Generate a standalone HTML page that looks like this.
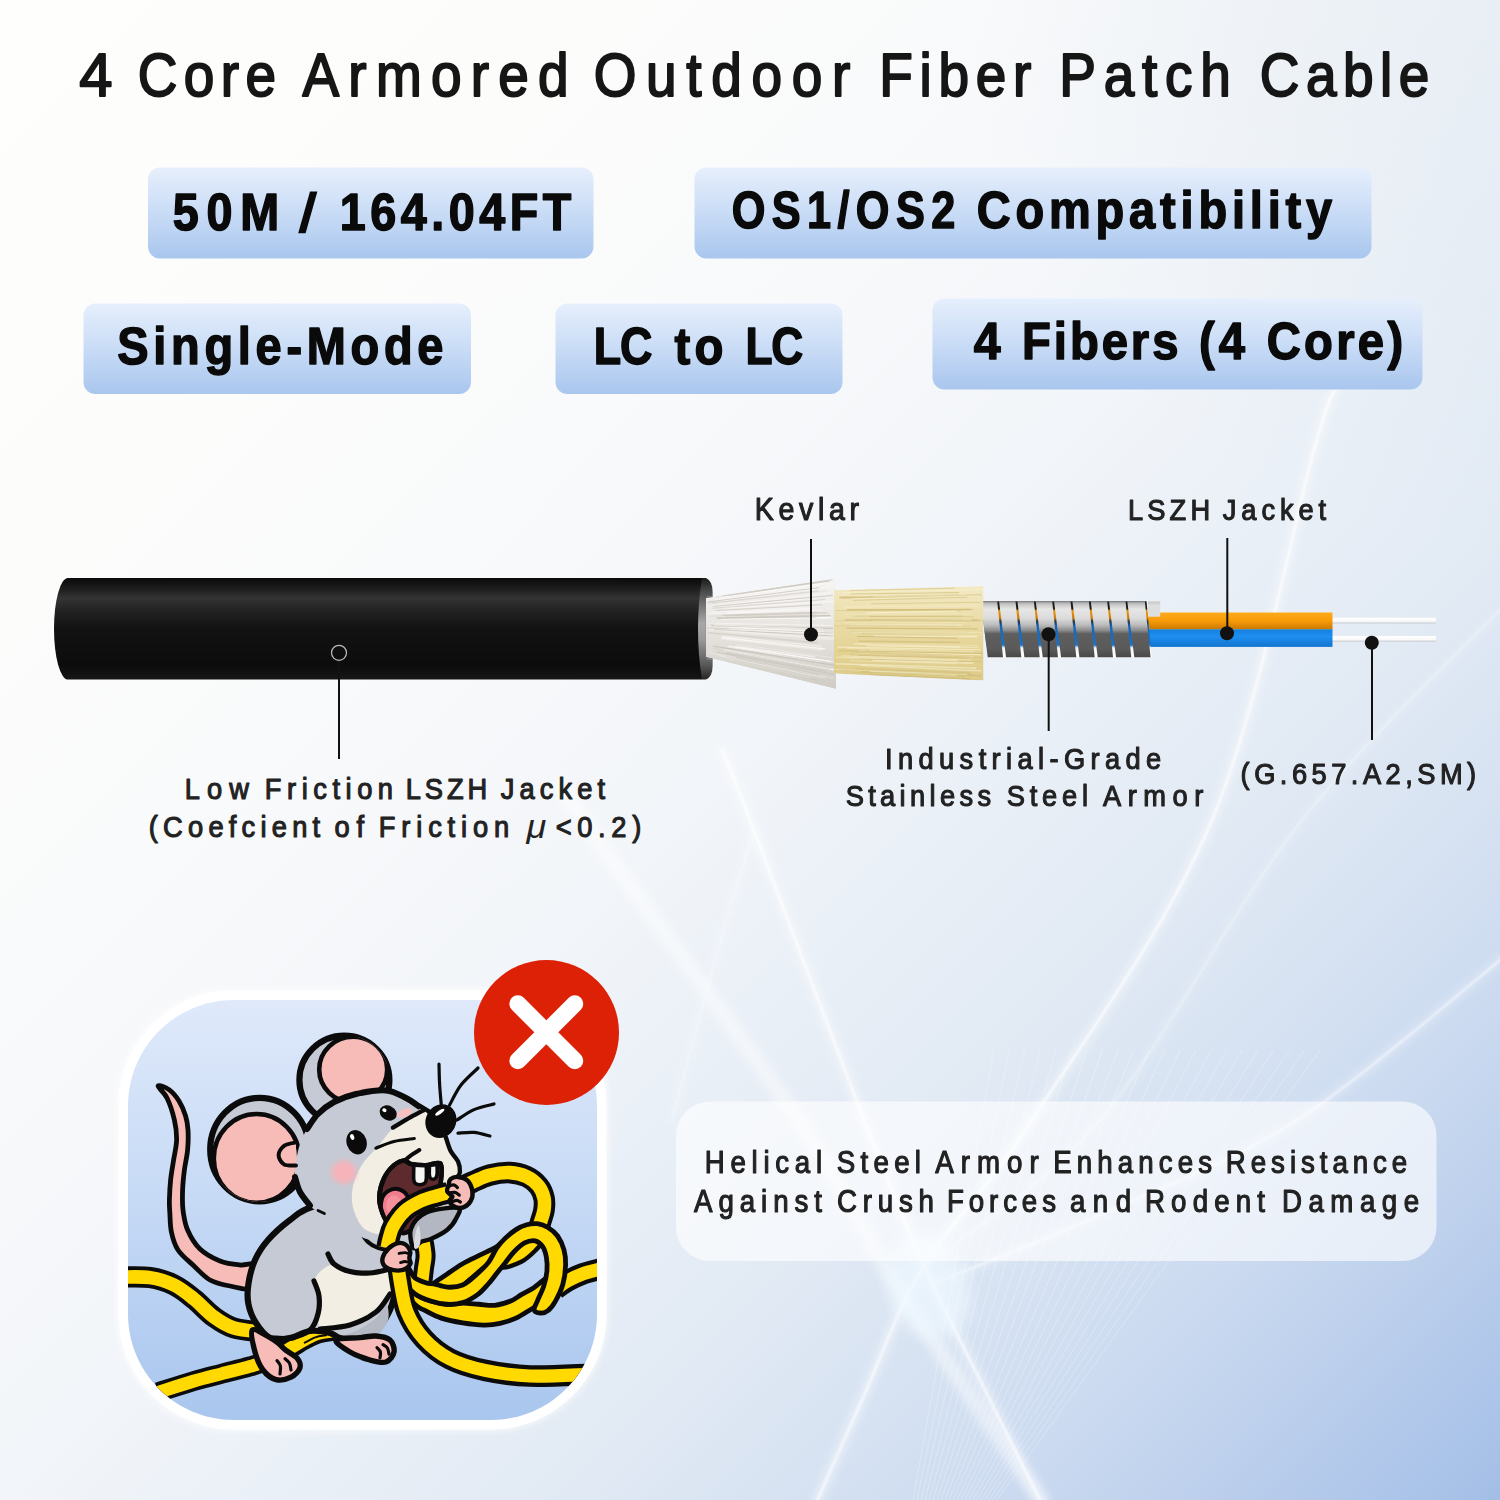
<!DOCTYPE html>
<html><head><meta charset="utf-8"><title>4 Core Armored Outdoor Fiber Patch Cable</title>
<style>
html,body{margin:0;padding:0;background:#fff;}
body{width:1500px;height:1500px;overflow:hidden;font-family:"Liberation Sans",sans-serif;}
svg{display:block;font-family:"Liberation Sans",sans-serif;}
</style></head><body>
<svg width="1500" height="1500" viewBox="0 0 1500 1500">
<defs>
<linearGradient id="bg" gradientUnits="userSpaceOnUse" x1="0" y1="0" x2="1500" y2="1500">
 <stop offset="0.0000" stop-color="#fefefc"/>
 <stop offset="0.2000" stop-color="#fcfcfb"/>
 <stop offset="0.3333" stop-color="#f9fafb"/>
 <stop offset="0.5000" stop-color="#f2f5f9"/>
 <stop offset="0.5867" stop-color="#eaf0f7"/>
 <stop offset="0.6800" stop-color="#e2eaf4"/>
 <stop offset="0.7667" stop-color="#d6e2f2"/>
 <stop offset="0.8333" stop-color="#cbdaf0"/>
 <stop offset="0.9000" stop-color="#bccfec"/>
 <stop offset="0.9567" stop-color="#aec6ea"/>
 <stop offset="1.0000" stop-color="#a3bee6"/>
</linearGradient>
<radialGradient id="trc" gradientUnits="userSpaceOnUse" cx="1520" cy="-20" r="560"><stop offset="0" stop-color="#c8d8e6" stop-opacity="0.24"/><stop offset="0.5" stop-color="#c8d8e6" stop-opacity="0.14"/><stop offset="1" stop-color="#c8d8e6" stop-opacity="0"/></radialGradient>
<linearGradient id="badge" x1="0" y1="0" x2="0" y2="1">
 <stop offset="0" stop-color="#e6effc"/>
 <stop offset="0.5" stop-color="#c9dcf6"/>
 <stop offset="1" stop-color="#a9c6ee"/>
</linearGradient>
<linearGradient id="blk" x1="0" y1="0" x2="0" y2="1">
 <stop offset="0" stop-color="#0a0a0a"/>
 <stop offset="0.10" stop-color="#1c1c1c"/>
 <stop offset="0.20" stop-color="#343434"/>
 <stop offset="0.32" stop-color="#222222"/>
 <stop offset="0.5" stop-color="#121212"/>
 <stop offset="0.85" stop-color="#0c0c0c"/>
 <stop offset="1" stop-color="#161616"/>
</linearGradient>
<filter id="blur2"><feGaussianBlur stdDeviation="2"/></filter>
<filter id="blur4"><feGaussianBlur stdDeviation="4"/></filter>
<filter id="blur8"><feGaussianBlur stdDeviation="8"/></filter>
<filter id="blur1"><feGaussianBlur stdDeviation="0.8"/></filter>
</defs>
<rect width="1500" height="1500" fill="url(#bg)"/><rect width="1500" height="1500" fill="url(#trc)"/>
<g id="streaks" fill="none" stroke="#ffffff" stroke-linecap="round">
<g filter="url(#blur4)">
<path d="M560.0,785.0 C566.7,794.8 560.3,788.2 600.0,844.0 C639.7,899.8 748.0,1045.7 798.0,1120.0 C848.0,1194.3 859.5,1226.7 900.0,1290.0 C940.5,1353.3 1017.5,1465.0 1041.0,1500.0" stroke-width="16" opacity="0.45"/>
<path d="M722.0,750.0 C726.7,761.7 726.3,758.3 750.0,820.0 C773.7,881.7 835.0,1045.7 864.0,1120.0 C893.0,1194.3 903.8,1221.0 924.0,1266.0 C944.2,1311.0 964.8,1349.3 985.0,1390.0 C1005.2,1430.7 1035.0,1490.0 1045.0,1510.0" stroke-width="8" opacity="0.5"/>
<path d="M753.0,832.0 C746.7,853.3 728.5,912.0 715.0,960.0 C701.5,1008.0 679.2,1093.3 672.0,1120.0" stroke-width="5" opacity="0.25"/>
<path d="M1335.0,390.0 C1331.5,400.0 1334.5,378.3 1314.0,450.0 C1293.5,521.7 1259.0,708.3 1212.0,820.0 C1165.0,931.7 1080.0,1045.7 1032.0,1120.0 C984.0,1194.3 952.3,1219.3 924.0,1266.0 C895.7,1312.7 880.5,1359.3 862.0,1400.0 C843.5,1440.7 821.2,1491.7 813.0,1510.0" stroke-width="8" opacity="0.5"/>
<path d="M1510.0,600.0 C1475.3,636.7 1370.3,733.3 1302.0,820.0 C1233.7,906.7 1163.0,1045.7 1100.0,1120.0 C1037.0,1194.3 953.3,1241.7 924.0,1266.0" stroke-width="5" opacity="0.25"/>
<path d="M1510.0,952.0 C1474.5,980.0 1365.3,1076.2 1297.0,1120.0 C1228.7,1163.8 1161.2,1187.5 1100.0,1215.0 C1038.8,1242.5 958.3,1273.3 930.0,1285.0" stroke-width="6" opacity="0.4"/>
</g>
<g filter="url(#blur1)">
<path d="M722.0,750.0 C726.7,761.7 726.3,758.3 750.0,820.0 C773.7,881.7 835.0,1045.7 864.0,1120.0 C893.0,1194.3 903.8,1221.0 924.0,1266.0 C944.2,1311.0 964.8,1349.3 985.0,1390.0 C1005.2,1430.7 1035.0,1490.0 1045.0,1510.0" stroke-width="2.2" opacity="0.8"/>
<path d="M753.0,832.0 C746.7,853.3 728.5,912.0 715.0,960.0 C701.5,1008.0 679.2,1093.3 672.0,1120.0" stroke-width="1.3" opacity="0.45"/>
<path d="M1335.0,390.0 C1331.5,400.0 1334.5,378.3 1314.0,450.0 C1293.5,521.7 1259.0,708.3 1212.0,820.0 C1165.0,931.7 1080.0,1045.7 1032.0,1120.0 C984.0,1194.3 952.3,1219.3 924.0,1266.0 C895.7,1312.7 880.5,1359.3 862.0,1400.0 C843.5,1440.7 821.2,1491.7 813.0,1510.0" stroke-width="2.2" opacity="0.8"/>
<path d="M1510.0,600.0 C1475.3,636.7 1370.3,733.3 1302.0,820.0 C1233.7,906.7 1163.0,1045.7 1100.0,1120.0 C1037.0,1194.3 953.3,1241.7 924.0,1266.0" stroke-width="1.3" opacity="0.45"/>
<path d="M1510.0,952.0 C1474.5,980.0 1365.3,1076.2 1297.0,1120.0 C1228.7,1163.8 1161.2,1187.5 1100.0,1215.0 C1038.8,1242.5 958.3,1273.3 930.0,1285.0" stroke-width="1.6" opacity="0.7"/>
</g>
<ellipse cx="928" cy="1285" rx="40" ry="55" fill="#eef8ff" stroke="none" filter="url(#blur8)" opacity="0.7" transform="rotate(-20 928 1285)"/>
<g stroke-width="1" opacity="0.28">
<line x1="993.8" y1="1050.0" x2="913" y2="1500"/>
<line x1="1009.3" y1="1050.0" x2="917" y2="1500"/>
<line x1="1024.8" y1="1050.0" x2="921" y2="1500"/>
<line x1="1040.4" y1="1050.0" x2="925" y2="1500"/>
<line x1="1055.9" y1="1050.0" x2="929" y2="1500"/>
<line x1="1071.5" y1="1050.0" x2="933" y2="1500"/>
<line x1="1087.0" y1="1050.0" x2="937" y2="1500"/>
<line x1="1102.5" y1="1050.0" x2="941" y2="1500"/>
<line x1="1118.1" y1="1050.0" x2="945" y2="1500"/>
<line x1="1133.6" y1="1050.0" x2="949" y2="1500"/>
<line x1="1149.2" y1="1050.0" x2="953" y2="1500"/>
<line x1="1164.7" y1="1050.0" x2="957" y2="1500"/>
<line x1="1180.2" y1="1050.0" x2="961" y2="1500"/>
<line x1="1195.8" y1="1050.0" x2="965" y2="1500"/>
<line x1="1211.3" y1="1050.0" x2="969" y2="1500"/>
<line x1="1226.8" y1="1050.0" x2="973" y2="1500"/>
<line x1="1242.4" y1="1050.0" x2="977" y2="1500"/>
<line x1="1257.9" y1="1050.0" x2="981" y2="1500"/>
<line x1="1273.5" y1="1050.0" x2="985" y2="1500"/>
<line x1="1289.0" y1="1050.0" x2="989" y2="1500"/>
<line x1="1304.5" y1="1050.0" x2="993" y2="1500"/>
<line x1="1320.1" y1="1050.0" x2="997" y2="1500"/>
</g>
</g>
<text transform="matrix(0.29843 0 0 0.30524 79.18 95.50)" font-size="200" letter-spacing="0.00" font-weight="normal" fill="#161616" stroke="#161616" stroke-width="6.55" stroke-linejoin="round">4</text>
<text transform="matrix(0.27471 0 0 0.30524 137.70 95.50)" font-size="200" letter-spacing="23.51" font-weight="normal" fill="#161616" stroke="#161616" stroke-width="6.55" stroke-linejoin="round">Core</text>
<text transform="matrix(0.27471 0 0 0.30524 302.45 95.50)" font-size="200" letter-spacing="33.69" font-weight="normal" fill="#161616" stroke="#161616" stroke-width="6.55" stroke-linejoin="round">Armored</text>
<text transform="matrix(0.27471 0 0 0.30524 593.70 95.50)" font-size="200" letter-spacing="35.30" font-weight="normal" fill="#161616" stroke="#161616" stroke-width="6.55" stroke-linejoin="round">Outdoor</text>
<text transform="matrix(0.27471 0 0 0.30524 879.32 95.50)" font-size="200" letter-spacing="24.40" font-weight="normal" fill="#161616" stroke="#161616" stroke-width="6.55" stroke-linejoin="round">Fiber</text>
<text transform="matrix(0.27471 0 0 0.30524 1059.32 95.50)" font-size="200" letter-spacing="28.19" font-weight="normal" fill="#161616" stroke="#161616" stroke-width="6.55" stroke-linejoin="round">Patch</text>
<text transform="matrix(0.27471 0 0 0.30524 1259.70 95.50)" font-size="200" letter-spacing="23.70" font-weight="normal" fill="#161616" stroke="#161616" stroke-width="6.55" stroke-linejoin="round">Cable</text>
<rect x="148" y="167.5" width="445.5" height="91.0" rx="12" fill="url(#badge)"/>
<rect x="694.5" y="167.5" width="677.0" height="91.0" rx="12" fill="url(#badge)"/>
<rect x="83.5" y="303.5" width="387.5" height="90.5" rx="12" fill="url(#badge)"/>
<rect x="555.5" y="303.5" width="287.0" height="90.5" rx="12" fill="url(#badge)"/>
<rect x="932.5" y="298.5" width="490.0" height="91.0" rx="12" fill="url(#badge)"/>
<text transform="matrix(0.23351 0 0 0.25945 172.67 229.85)" font-size="200" letter-spacing="33.30" font-weight="bold" fill="#0a0a0a" stroke="#0a0a0a" stroke-width="5.78" stroke-linejoin="round">50M</text>
<text transform="matrix(0.23351 0 0 0.25945 339.87 229.85)" font-size="200" letter-spacing="19.32" font-weight="bold" fill="#0a0a0a" stroke="#0a0a0a" stroke-width="5.78" stroke-linejoin="round">164.04FT</text>
<polygon points="298.2,233.2 305.6,233.2 317.4,191.6 310,191.6" fill="#0a0a0a"/>
<text transform="matrix(0.21655 0 0 0.26091 731.67 227.65)" font-size="200" letter-spacing="29.48" font-weight="bold" fill="#0a0a0a" stroke="#0a0a0a" stroke-width="5.75" stroke-linejoin="round">OS1/OS2</text>
<text transform="matrix(0.23482 0 0 0.26091 976.64 227.65)" font-size="200" letter-spacing="20.65" font-weight="bold" fill="#0a0a0a" stroke="#0a0a0a" stroke-width="5.75" stroke-linejoin="round">Compatibility</text>
<text transform="matrix(0.23482 0 0 0.26091 117.32 363.65)" font-size="200" letter-spacing="20.02" font-weight="bold" fill="#0a0a0a" stroke="#0a0a0a" stroke-width="5.75" stroke-linejoin="round">Single-Mode</text>
<text transform="matrix(0.22466 0 0 0.26309 593.87 363.55)" font-size="200" letter-spacing="-6.00" font-weight="bold" fill="#0a0a0a" stroke="#0a0a0a" stroke-width="5.70" stroke-linejoin="round">LC</text>
<text transform="matrix(0.23678 0 0 0.26309 674.45 363.55)" font-size="200" letter-spacing="18.40" font-weight="bold" fill="#0a0a0a" stroke="#0a0a0a" stroke-width="5.70" stroke-linejoin="round">to</text>
<text transform="matrix(0.22167 0 0 0.26309 745.59 363.55)" font-size="200" letter-spacing="-6.00" font-weight="bold" fill="#0a0a0a" stroke="#0a0a0a" stroke-width="5.70" stroke-linejoin="round">LC</text>
<text transform="matrix(0.24171 0 0 0.26236 973.67 358.85)" font-size="200" letter-spacing="0.00" font-weight="bold" fill="#0a0a0a" stroke="#0a0a0a" stroke-width="5.72" stroke-linejoin="round">4</text>
<text transform="matrix(0.23612 0 0 0.26236 1022.09 358.85)" font-size="200" letter-spacing="12.39" font-weight="bold" fill="#0a0a0a" stroke="#0a0a0a" stroke-width="5.72" stroke-linejoin="round">Fibers</text>
<text transform="matrix(0.23612 0 0 0.26236 1198.92 358.85)" font-size="200" letter-spacing="17.10" font-weight="bold" fill="#0a0a0a" stroke="#0a0a0a" stroke-width="5.72" stroke-linejoin="round">(4</text>
<text transform="matrix(0.23612 0 0 0.26236 1266.67 358.85)" font-size="200" letter-spacing="13.96" font-weight="bold" fill="#0a0a0a" stroke="#0a0a0a" stroke-width="5.72" stroke-linejoin="round">Core)</text>
<defs>
<linearGradient id="face" x1="0" y1="0" x2="0" y2="1">
<stop offset="0" stop-color="#1c1c1c"/><stop offset="0.18" stop-color="#5a5a5a"/><stop offset="0.45" stop-color="#a8a8a8"/>
<stop offset="0.6" stop-color="#9a9a9a"/><stop offset="0.85" stop-color="#5a5a5a"/><stop offset="1" stop-color="#262626"/></linearGradient>
<linearGradient id="steel" x1="0" y1="0" x2="0" y2="1">
<stop offset="0" stop-color="#8e8e8e"/><stop offset="0.05" stop-color="#c4c4c4"/><stop offset="0.14" stop-color="#e6e6e6"/>
<stop offset="0.30" stop-color="#dcdcdc"/><stop offset="0.42" stop-color="#bdbdbd"/><stop offset="0.52" stop-color="#8c8c8c"/>
<stop offset="0.58" stop-color="#5e5e5e"/><stop offset="0.85" stop-color="#5a5a5a"/><stop offset="1" stop-color="#484848"/></linearGradient>
<linearGradient id="gap" x1="0" y1="0" x2="0" y2="1">
<stop offset="0" stop-color="#1a1a1a"/><stop offset="0.13" stop-color="#1a1a1a"/><stop offset="0.17" stop-color="#e6960e"/>
<stop offset="0.30" stop-color="#c97c08"/><stop offset="0.36" stop-color="#20364a"/><stop offset="0.45" stop-color="#1565b8"/>
<stop offset="0.78" stop-color="#1a72c8"/><stop offset="0.83" stop-color="#f4f4f4"/><stop offset="1" stop-color="#ffffff"/></linearGradient>
<linearGradient id="org" x1="0" y1="0" x2="0" y2="1">
<stop offset="0" stop-color="#ffab1a"/><stop offset="0.5" stop-color="#f79a08"/><stop offset="1" stop-color="#c87800"/></linearGradient>
<linearGradient id="blu" x1="0" y1="0" x2="0" y2="1">
<stop offset="0" stop-color="#1580dc"/><stop offset="0.4" stop-color="#1e8ff0"/><stop offset="1" stop-color="#1274cf"/></linearGradient>
<linearGradient id="fib" x1="0" y1="0" x2="0" y2="1">
<stop offset="0" stop-color="#ffffff"/><stop offset="0.6" stop-color="#fafafa"/><stop offset="1" stop-color="#c9ccd2"/></linearGradient>
<linearGradient id="kw" x1="0" y1="0" x2="0" y2="1">
<stop offset="0" stop-color="#f5f4f2" stop-opacity="0.9"/><stop offset="0.2" stop-color="#f0eeeb"/><stop offset="0.6" stop-color="#e2dfda"/><stop offset="1" stop-color="#cfcbc4"/></linearGradient>
<linearGradient id="ky" x1="0" y1="0" x2="0" y2="1">
<stop offset="0" stop-color="#f3e9c4"/><stop offset="0.3" stop-color="#ecdfae"/><stop offset="0.7" stop-color="#e3d292"/><stop offset="1" stop-color="#dccb8a"/></linearGradient>
<clipPath id="ckw"><polygon points="706,598 836,578 836,689 706,657"/></clipPath>
<clipPath id="cky"><polygon points="834,590 983.5,586 983.5,680.5 834,673.5"/></clipPath>

</defs>
<rect x="1330" y="617.7" width="106" height="5.8" fill="url(#fib)"/>
<rect x="1330" y="636" width="106" height="5.8" fill="url(#fib)"/>
<rect x="1146" y="612.5" width="186.5" height="17" fill="url(#org)"/>
<rect x="1148" y="629.3" width="184.5" height="17.6" fill="url(#blu)"/>
<polygon points="980.7,601.3 1146.5,601.3 1151.8,657.3 988,657.3" fill="url(#gap)"/>
<polygon points="980.7,601.3 997.2,601.3 1003.0,657.3 987.7,657.3" fill="url(#steel)"/>
<polygon points="999.0,601.3 1015.5,601.3 1021.3,657.3 1006.0,657.3" fill="url(#steel)"/>
<polygon points="1017.4,601.3 1033.9,601.3 1039.7,657.3 1024.4,657.3" fill="url(#steel)"/>
<polygon points="1035.7,601.3 1052.2,601.3 1058.0,657.3 1042.7,657.3" fill="url(#steel)"/>
<polygon points="1054.0,601.3 1070.5,601.3 1076.3,657.3 1061.0,657.3" fill="url(#steel)"/>
<polygon points="1072.4,601.3 1088.9,601.3 1094.7,657.3 1079.4,657.3" fill="url(#steel)"/>
<polygon points="1090.7,601.3 1107.2,601.3 1113.0,657.3 1097.7,657.3" fill="url(#steel)"/>
<polygon points="1109.0,601.3 1125.5,601.3 1131.3,657.3 1116.0,657.3" fill="url(#steel)"/>
<polygon points="1127.3,601.3 1144.8,601.3 1150.6,657.3 1134.3,657.3" fill="url(#steel)"/>
<rect x="1148" y="601.3" width="12.2" height="15.4" fill="#dedede"/><rect x="1148" y="601.3" width="12.2" height="3" fill="#cfcfcf"/>
<path d="M68,578 L702,578 L702,679.6 L68,679.6 A14,50.8 0 0 1 68,578 Z" fill="url(#blk)"/>
<path d="M702,578 L706,578 Q712.6,581 712.6,592 L712.6,666 Q712.6,676.5 706,679.6 L702,679.6 Q698,655 698,628.8 Q698,603 702,578 Z" fill="url(#face)"/>
<path d="M707,596 Q703.5,628 707,660 L712.6,660 L712.6,596 Z" fill="#8c8c8c" opacity="0.6"/>
<g clip-path="url(#ckw)">
<polygon points="706,598 836,578 836,689 706,657" fill="url(#kw)"/>
<line x1="730.6" y1="616.5" x2="833.6" y2="614.3" stroke="#fbfaf8" stroke-width="0.6" stroke-opacity="0.53"/>
<line x1="708.1" y1="652.1" x2="833.7" y2="678.3" stroke="#fbfaf8" stroke-width="1.0" stroke-opacity="0.37"/>
<line x1="723.5" y1="649.9" x2="834.5" y2="669.8" stroke="#ffffff" stroke-width="1.2" stroke-opacity="0.78"/>
<line x1="714.7" y1="599.8" x2="832.4" y2="582.8" stroke="#fbfaf8" stroke-width="1.5" stroke-opacity="0.37"/>
<line x1="725.2" y1="615.6" x2="826.7" y2="612.7" stroke="#c4beb5" stroke-width="1.2" stroke-opacity="0.43"/>
<line x1="722.0" y1="599.7" x2="816.6" y2="587.4" stroke="#ffffff" stroke-width="1.1" stroke-opacity="0.63"/>
<line x1="727.0" y1="657.0" x2="829.9" y2="679.4" stroke="#cdc8c0" stroke-width="1.4" stroke-opacity="0.48"/>
<line x1="735.4" y1="630.6" x2="833.0" y2="635.9" stroke="#cdc8c0" stroke-width="0.9" stroke-opacity="0.68"/>
<line x1="734.9" y1="647.0" x2="834.1" y2="661.9" stroke="#fbfaf8" stroke-width="1.0" stroke-opacity="0.77"/>
<line x1="720.9" y1="647.0" x2="816.1" y2="661.1" stroke="#cdc8c0" stroke-width="1.0" stroke-opacity="0.50"/>
<line x1="707.8" y1="603.3" x2="818.5" y2="590.9" stroke="#cdc8c0" stroke-width="1.3" stroke-opacity="0.56"/>
<line x1="726.1" y1="661.5" x2="835.4" y2="688.0" stroke="#d6d2cb" stroke-width="1.0" stroke-opacity="0.48"/>
<line x1="714.6" y1="607.2" x2="817.5" y2="597.9" stroke="#ffffff" stroke-width="0.8" stroke-opacity="0.57"/>
<line x1="722.5" y1="655.6" x2="813.9" y2="676.0" stroke="#d6d2cb" stroke-width="1.0" stroke-opacity="0.39"/>
<line x1="726.5" y1="652.9" x2="826.5" y2="671.3" stroke="#cdc8c0" stroke-width="1.6" stroke-opacity="0.67"/>
<line x1="720.5" y1="601.1" x2="821.3" y2="588.3" stroke="#fbfaf8" stroke-width="0.8" stroke-opacity="0.45"/>
<line x1="715.6" y1="596.8" x2="832.9" y2="580.0" stroke="#d6d2cb" stroke-width="1.2" stroke-opacity="0.59"/>
<line x1="733.0" y1="660.2" x2="816.5" y2="680.2" stroke="#c4beb5" stroke-width="0.7" stroke-opacity="0.65"/>
<line x1="720.4" y1="647.5" x2="826.0" y2="664.0" stroke="#d6d2cb" stroke-width="1.0" stroke-opacity="0.53"/>
<line x1="707.6" y1="656.5" x2="836.0" y2="686.3" stroke="#d6d2cb" stroke-width="0.9" stroke-opacity="0.42"/>
<line x1="712.2" y1="603.3" x2="826.6" y2="590.7" stroke="#cdc8c0" stroke-width="0.7" stroke-opacity="0.63"/>
<line x1="731.5" y1="660.2" x2="811.2" y2="678.3" stroke="#f5f3ef" stroke-width="0.7" stroke-opacity="0.51"/>
<line x1="728.2" y1="627.4" x2="824.0" y2="631.8" stroke="#ffffff" stroke-width="1.3" stroke-opacity="0.41"/>
<line x1="710.4" y1="628.7" x2="822.4" y2="633.2" stroke="#fbfaf8" stroke-width="1.1" stroke-opacity="0.78"/>
<line x1="713.8" y1="629.6" x2="826.8" y2="635.1" stroke="#c4beb5" stroke-width="1.3" stroke-opacity="0.74"/>
<line x1="725.1" y1="646.5" x2="820.7" y2="662.2" stroke="#f5f3ef" stroke-width="1.1" stroke-opacity="0.59"/>
<line x1="728.2" y1="646.1" x2="830.3" y2="661.4" stroke="#fbfaf8" stroke-width="1.4" stroke-opacity="0.71"/>
<line x1="720.2" y1="618.8" x2="831.2" y2="617.8" stroke="#ffffff" stroke-width="1.4" stroke-opacity="0.80"/>
<line x1="716.9" y1="618.1" x2="830.5" y2="615.5" stroke="#c4beb5" stroke-width="1.6" stroke-opacity="0.79"/>
<line x1="724.3" y1="608.2" x2="836.0" y2="601.1" stroke="#fbfaf8" stroke-width="1.6" stroke-opacity="0.57"/>
<line x1="733.3" y1="617.9" x2="816.4" y2="617.3" stroke="#c4beb5" stroke-width="1.3" stroke-opacity="0.39"/>
<line x1="708.6" y1="626.3" x2="812.3" y2="630.8" stroke="#fbfaf8" stroke-width="1.2" stroke-opacity="0.55"/>
<line x1="711.1" y1="625.5" x2="832.8" y2="628.3" stroke="#c4beb5" stroke-width="1.3" stroke-opacity="0.78"/>
<line x1="735.4" y1="657.5" x2="819.6" y2="674.6" stroke="#c4beb5" stroke-width="1.4" stroke-opacity="0.42"/>
<line x1="727.8" y1="631.8" x2="833.4" y2="639.5" stroke="#fbfaf8" stroke-width="1.4" stroke-opacity="0.36"/>
<line x1="713.6" y1="605.5" x2="828.7" y2="593.4" stroke="#fbfaf8" stroke-width="0.8" stroke-opacity="0.72"/>
<line x1="707.8" y1="632.7" x2="817.5" y2="642.8" stroke="#cdc8c0" stroke-width="1.4" stroke-opacity="0.59"/>
<line x1="721.0" y1="638.8" x2="822.7" y2="650.1" stroke="#f5f3ef" stroke-width="1.5" stroke-opacity="0.54"/>
<line x1="729.3" y1="595.7" x2="832.3" y2="579.5" stroke="#d6d2cb" stroke-width="1.2" stroke-opacity="0.70"/>
<line x1="721.6" y1="636.0" x2="822.1" y2="646.3" stroke="#ffffff" stroke-width="0.9" stroke-opacity="0.60"/>
<line x1="707.3" y1="604.1" x2="833.6" y2="589.9" stroke="#f5f3ef" stroke-width="0.8" stroke-opacity="0.38"/>
<line x1="721.2" y1="597.5" x2="823.2" y2="583.5" stroke="#ffffff" stroke-width="1.2" stroke-opacity="0.55"/>
<line x1="713.4" y1="624.9" x2="822.9" y2="629.0" stroke="#f5f3ef" stroke-width="1.1" stroke-opacity="0.71"/>
<line x1="719.4" y1="655.7" x2="825.6" y2="678.4" stroke="#f5f3ef" stroke-width="0.8" stroke-opacity="0.75"/>
<line x1="726.1" y1="616.1" x2="816.4" y2="614.8" stroke="#c4beb5" stroke-width="0.7" stroke-opacity="0.46"/>
<line x1="713.6" y1="606.4" x2="832.6" y2="595.4" stroke="#c4beb5" stroke-width="1.0" stroke-opacity="0.64"/>
<line x1="735.7" y1="646.4" x2="815.2" y2="656.9" stroke="#ffffff" stroke-width="1.1" stroke-opacity="0.53"/>
<line x1="716.7" y1="623.7" x2="833.7" y2="625.5" stroke="#f5f3ef" stroke-width="1.0" stroke-opacity="0.53"/>
<line x1="715.9" y1="617.8" x2="820.4" y2="615.8" stroke="#d6d2cb" stroke-width="0.6" stroke-opacity="0.55"/>
<line x1="714.0" y1="600.8" x2="835.0" y2="586.1" stroke="#fbfaf8" stroke-width="0.7" stroke-opacity="0.79"/>
<line x1="726.3" y1="613.0" x2="812.3" y2="608.8" stroke="#fbfaf8" stroke-width="1.4" stroke-opacity="0.72"/>
<line x1="708.7" y1="629.8" x2="834.6" y2="638.0" stroke="#f5f3ef" stroke-width="1.3" stroke-opacity="0.61"/>
<line x1="708.7" y1="623.1" x2="829.5" y2="625.4" stroke="#ffffff" stroke-width="0.6" stroke-opacity="0.47"/>
<line x1="716.2" y1="610.5" x2="822.2" y2="604.9" stroke="#cdc8c0" stroke-width="1.1" stroke-opacity="0.74"/>
<line x1="734.1" y1="612.5" x2="811.8" y2="608.1" stroke="#fbfaf8" stroke-width="1.3" stroke-opacity="0.37"/>
<line x1="712.2" y1="608.2" x2="824.9" y2="599.5" stroke="#cdc8c0" stroke-width="1.1" stroke-opacity="0.63"/>
<line x1="706.6" y1="613.9" x2="823.4" y2="610.0" stroke="#ffffff" stroke-width="0.6" stroke-opacity="0.80"/>
<line x1="730.6" y1="629.6" x2="825.2" y2="634.5" stroke="#fbfaf8" stroke-width="0.7" stroke-opacity="0.77"/>
<line x1="712.5" y1="648.4" x2="830.3" y2="668.7" stroke="#d6d2cb" stroke-width="0.9" stroke-opacity="0.79"/>
<line x1="716.4" y1="652.1" x2="834.6" y2="674.5" stroke="#c4beb5" stroke-width="1.0" stroke-opacity="0.64"/>
<line x1="707.7" y1="602.0" x2="819.4" y2="587.6" stroke="#c4beb5" stroke-width="1.0" stroke-opacity="0.75"/>
<line x1="707.4" y1="627.9" x2="831.4" y2="633.2" stroke="#cdc8c0" stroke-width="1.3" stroke-opacity="0.62"/>
<line x1="722.4" y1="595.7" x2="829.9" y2="580.7" stroke="#cdc8c0" stroke-width="1.6" stroke-opacity="0.78"/>
<line x1="708.5" y1="616.2" x2="829.0" y2="613.0" stroke="#cdc8c0" stroke-width="0.9" stroke-opacity="0.43"/>
<line x1="710.3" y1="612.4" x2="821.3" y2="606.0" stroke="#ffffff" stroke-width="1.4" stroke-opacity="0.39"/>
<line x1="721.9" y1="615.1" x2="817.2" y2="612.4" stroke="#c4beb5" stroke-width="1.2" stroke-opacity="0.45"/>
<line x1="735.5" y1="644.2" x2="832.3" y2="657.7" stroke="#f5f3ef" stroke-width="0.9" stroke-opacity="0.53"/>
<line x1="721.4" y1="637.5" x2="825.3" y2="648.9" stroke="#ffffff" stroke-width="1.3" stroke-opacity="0.72"/>
<line x1="730.4" y1="629.0" x2="835.6" y2="634.7" stroke="#f5f3ef" stroke-width="1.2" stroke-opacity="0.69"/>
<line x1="712.9" y1="646.2" x2="835.2" y2="665.3" stroke="#c4beb5" stroke-width="1.3" stroke-opacity="0.66"/>
</g>
<g clip-path="url(#cky)">
<polygon points="834,590 983.5,586 983.5,680.5 834,673.5" fill="url(#ky)"/>
<line x1="836.0" y1="620.1" x2="984.4" y2="620.2" stroke="#fbf4d8" stroke-width="1.1" stroke-opacity="0.52"/>
<line x1="863.9" y1="610.2" x2="969.9" y2="609.3" stroke="#cdb974" stroke-width="1.4" stroke-opacity="0.35"/>
<line x1="866.4" y1="645.7" x2="959.6" y2="647.1" stroke="#fbf4d8" stroke-width="1.1" stroke-opacity="0.69"/>
<line x1="853.8" y1="653.7" x2="973.5" y2="657.1" stroke="#f7eecb" stroke-width="1.6" stroke-opacity="0.68"/>
<line x1="837.1" y1="647.2" x2="980.6" y2="649.9" stroke="#fbf4d8" stroke-width="1.2" stroke-opacity="0.63"/>
<line x1="853.3" y1="652.6" x2="970.4" y2="657.0" stroke="#cdb974" stroke-width="0.7" stroke-opacity="0.63"/>
<line x1="854.7" y1="597.9" x2="971.1" y2="595.6" stroke="#f7eecb" stroke-width="0.9" stroke-opacity="0.65"/>
<line x1="871.5" y1="599.2" x2="984.5" y2="597.1" stroke="#f1e6b8" stroke-width="1.6" stroke-opacity="0.44"/>
<line x1="870.7" y1="659.7" x2="957.1" y2="661.5" stroke="#d6c482" stroke-width="1.0" stroke-opacity="0.80"/>
<line x1="839.3" y1="597.4" x2="960.4" y2="595.0" stroke="#c9b56e" stroke-width="1.6" stroke-opacity="0.59"/>
<line x1="869.0" y1="665.4" x2="973.2" y2="668.5" stroke="#c9b56e" stroke-width="1.1" stroke-opacity="0.51"/>
<line x1="839.6" y1="669.6" x2="974.7" y2="674.9" stroke="#c9b56e" stroke-width="0.9" stroke-opacity="0.55"/>
<line x1="849.9" y1="660.7" x2="956.8" y2="663.7" stroke="#fbf4d8" stroke-width="0.9" stroke-opacity="0.50"/>
<line x1="849.7" y1="590.6" x2="955.0" y2="588.1" stroke="#c9b56e" stroke-width="1.0" stroke-opacity="0.48"/>
<line x1="845.2" y1="620.1" x2="983.5" y2="620.5" stroke="#d6c482" stroke-width="1.5" stroke-opacity="0.69"/>
<line x1="854.4" y1="643.4" x2="979.3" y2="645.6" stroke="#f7eecb" stroke-width="0.9" stroke-opacity="0.46"/>
<line x1="870.5" y1="671.4" x2="956.8" y2="675.3" stroke="#fbf4d8" stroke-width="1.2" stroke-opacity="0.72"/>
<line x1="858.6" y1="650.7" x2="980.8" y2="654.8" stroke="#fbf4d8" stroke-width="1.0" stroke-opacity="0.77"/>
<line x1="847.7" y1="630.7" x2="976.1" y2="632.4" stroke="#f1e6b8" stroke-width="1.1" stroke-opacity="0.41"/>
<line x1="853.3" y1="672.4" x2="964.9" y2="676.5" stroke="#cdb974" stroke-width="0.8" stroke-opacity="0.53"/>
<line x1="853.9" y1="644.1" x2="978.4" y2="647.6" stroke="#fbf4d8" stroke-width="1.5" stroke-opacity="0.44"/>
<line x1="843.8" y1="673.7" x2="979.8" y2="680.1" stroke="#d6c482" stroke-width="1.1" stroke-opacity="0.54"/>
<line x1="869.5" y1="616.5" x2="962.5" y2="616.0" stroke="#cdb974" stroke-width="1.2" stroke-opacity="0.47"/>
<line x1="864.1" y1="624.7" x2="970.1" y2="625.2" stroke="#f1e6b8" stroke-width="0.9" stroke-opacity="0.44"/>
<line x1="868.5" y1="620.1" x2="978.5" y2="619.5" stroke="#c9b56e" stroke-width="1.2" stroke-opacity="0.58"/>
<line x1="846.5" y1="610.6" x2="960.6" y2="610.8" stroke="#d6c482" stroke-width="1.0" stroke-opacity="0.64"/>
<line x1="852.9" y1="600.3" x2="967.4" y2="597.1" stroke="#d6c482" stroke-width="1.5" stroke-opacity="0.67"/>
<line x1="843.9" y1="622.7" x2="981.7" y2="622.2" stroke="#f1e6b8" stroke-width="1.6" stroke-opacity="0.73"/>
<line x1="862.0" y1="633.9" x2="959.6" y2="636.0" stroke="#c9b56e" stroke-width="1.4" stroke-opacity="0.40"/>
<line x1="856.8" y1="596.6" x2="983.9" y2="594.6" stroke="#fbf4d8" stroke-width="0.7" stroke-opacity="0.35"/>
<line x1="861.9" y1="671.6" x2="981.6" y2="675.8" stroke="#c9b56e" stroke-width="1.2" stroke-opacity="0.46"/>
<line x1="865.6" y1="634.2" x2="985.0" y2="635.6" stroke="#f1e6b8" stroke-width="0.9" stroke-opacity="0.44"/>
<line x1="869.4" y1="674.8" x2="970.7" y2="678.9" stroke="#cdb974" stroke-width="1.2" stroke-opacity="0.78"/>
<line x1="834.9" y1="610.6" x2="970.1" y2="609.9" stroke="#d6c482" stroke-width="0.9" stroke-opacity="0.67"/>
<line x1="848.8" y1="625.1" x2="970.2" y2="626.1" stroke="#cdb974" stroke-width="1.0" stroke-opacity="0.45"/>
<line x1="865.9" y1="650.8" x2="962.8" y2="653.3" stroke="#cdb974" stroke-width="0.8" stroke-opacity="0.66"/>
<line x1="843.2" y1="607.0" x2="978.4" y2="606.1" stroke="#f7eecb" stroke-width="1.4" stroke-opacity="0.49"/>
<line x1="842.9" y1="614.6" x2="972.5" y2="614.3" stroke="#f1e6b8" stroke-width="0.8" stroke-opacity="0.57"/>
<line x1="834.9" y1="669.3" x2="967.1" y2="674.7" stroke="#f7eecb" stroke-width="0.7" stroke-opacity="0.76"/>
<line x1="869.3" y1="650.2" x2="963.0" y2="653.7" stroke="#f7eecb" stroke-width="1.5" stroke-opacity="0.53"/>
<line x1="855.0" y1="668.7" x2="971.0" y2="673.0" stroke="#cdb974" stroke-width="1.3" stroke-opacity="0.44"/>
<line x1="838.4" y1="650.7" x2="982.7" y2="653.5" stroke="#cdb974" stroke-width="1.0" stroke-opacity="0.79"/>
<line x1="849.2" y1="625.1" x2="961.9" y2="625.2" stroke="#fbf4d8" stroke-width="1.4" stroke-opacity="0.60"/>
<line x1="848.9" y1="657.6" x2="957.4" y2="660.4" stroke="#fbf4d8" stroke-width="1.1" stroke-opacity="0.37"/>
<line x1="866.5" y1="620.4" x2="962.0" y2="619.3" stroke="#d6c482" stroke-width="1.0" stroke-opacity="0.36"/>
<line x1="841.8" y1="592.7" x2="983.1" y2="589.6" stroke="#fbf4d8" stroke-width="0.7" stroke-opacity="0.71"/>
<line x1="844.5" y1="620.3" x2="963.5" y2="619.9" stroke="#cdb974" stroke-width="1.2" stroke-opacity="0.78"/>
<line x1="866.2" y1="612.8" x2="956.6" y2="611.2" stroke="#fbf4d8" stroke-width="1.2" stroke-opacity="0.67"/>
<line x1="872.2" y1="660.3" x2="973.4" y2="663.1" stroke="#fbf4d8" stroke-width="1.6" stroke-opacity="0.56"/>
<line x1="834.3" y1="625.9" x2="957.1" y2="626.0" stroke="#d6c482" stroke-width="1.1" stroke-opacity="0.41"/>
<line x1="846.8" y1="648.1" x2="974.1" y2="651.8" stroke="#f7eecb" stroke-width="0.9" stroke-opacity="0.62"/>
<line x1="850.3" y1="596.3" x2="965.5" y2="593.8" stroke="#f7eecb" stroke-width="0.8" stroke-opacity="0.53"/>
<line x1="873.5" y1="636.0" x2="977.1" y2="636.4" stroke="#f7eecb" stroke-width="1.5" stroke-opacity="0.79"/>
<line x1="840.9" y1="597.9" x2="981.0" y2="595.1" stroke="#d6c482" stroke-width="1.6" stroke-opacity="0.79"/>
<line x1="860.6" y1="665.4" x2="981.4" y2="670.9" stroke="#f7eecb" stroke-width="1.4" stroke-opacity="0.69"/>
<line x1="844.4" y1="614.5" x2="971.8" y2="613.1" stroke="#f1e6b8" stroke-width="0.9" stroke-opacity="0.47"/>
<line x1="847.1" y1="609.5" x2="973.1" y2="609.5" stroke="#cdb974" stroke-width="1.2" stroke-opacity="0.75"/>
<line x1="852.6" y1="632.6" x2="983.9" y2="632.7" stroke="#f7eecb" stroke-width="0.7" stroke-opacity="0.64"/>
<line x1="835.6" y1="663.8" x2="976.2" y2="668.2" stroke="#f7eecb" stroke-width="1.5" stroke-opacity="0.73"/>
<line x1="854.5" y1="605.6" x2="979.7" y2="604.2" stroke="#f1e6b8" stroke-width="0.7" stroke-opacity="0.44"/>
<line x1="857.8" y1="655.4" x2="966.4" y2="658.0" stroke="#c9b56e" stroke-width="0.7" stroke-opacity="0.78"/>
<line x1="835.5" y1="620.8" x2="963.0" y2="621.8" stroke="#f7eecb" stroke-width="1.6" stroke-opacity="0.37"/>
<line x1="858.8" y1="658.8" x2="982.7" y2="661.8" stroke="#cdb974" stroke-width="1.0" stroke-opacity="0.53"/>
<line x1="849.8" y1="631.5" x2="968.5" y2="633.0" stroke="#d6c482" stroke-width="0.7" stroke-opacity="0.38"/>
<line x1="873.5" y1="596.8" x2="965.0" y2="594.8" stroke="#f7eecb" stroke-width="0.9" stroke-opacity="0.53"/>
<line x1="850.7" y1="593.9" x2="959.1" y2="592.6" stroke="#c9b56e" stroke-width="1.0" stroke-opacity="0.60"/>
<line x1="871.7" y1="620.4" x2="972.0" y2="619.6" stroke="#f7eecb" stroke-width="1.0" stroke-opacity="0.53"/>
<line x1="852.4" y1="599.1" x2="980.1" y2="595.7" stroke="#fbf4d8" stroke-width="1.5" stroke-opacity="0.53"/>
<line x1="856.9" y1="636.4" x2="957.2" y2="638.3" stroke="#c9b56e" stroke-width="1.0" stroke-opacity="0.71"/>
<line x1="871.0" y1="603.8" x2="981.7" y2="602.2" stroke="#cdb974" stroke-width="1.1" stroke-opacity="0.48"/>
<line x1="835.7" y1="657.3" x2="957.6" y2="660.7" stroke="#f7eecb" stroke-width="1.4" stroke-opacity="0.49"/>
<line x1="858.8" y1="641.2" x2="960.3" y2="642.2" stroke="#c9b56e" stroke-width="1.5" stroke-opacity="0.52"/>
<line x1="841.8" y1="655.9" x2="970.8" y2="660.0" stroke="#f7eecb" stroke-width="1.2" stroke-opacity="0.63"/>
<line x1="840.0" y1="593.3" x2="955.9" y2="591.4" stroke="#f1e6b8" stroke-width="1.0" stroke-opacity="0.42"/>
<line x1="860.7" y1="605.7" x2="975.3" y2="604.1" stroke="#f1e6b8" stroke-width="1.3" stroke-opacity="0.73"/>
<line x1="846.3" y1="628.1" x2="977.5" y2="628.8" stroke="#c9b56e" stroke-width="1.2" stroke-opacity="0.70"/>
<line x1="858.8" y1="620.7" x2="970.3" y2="620.1" stroke="#f1e6b8" stroke-width="0.6" stroke-opacity="0.55"/>
<line x1="850.0" y1="654.2" x2="983.0" y2="657.8" stroke="#d6c482" stroke-width="1.4" stroke-opacity="0.73"/>
<line x1="835.6" y1="620.5" x2="981.1" y2="621.5" stroke="#d6c482" stroke-width="1.3" stroke-opacity="0.58"/>
<line x1="854.2" y1="616.1" x2="973.7" y2="616.8" stroke="#c9b56e" stroke-width="0.7" stroke-opacity="0.58"/>
</g>
<text transform="matrix(0.14292 0 0 0.15880 754.82 519.92)" font-size="200" letter-spacing="32.37" font-weight="normal" fill="#222222" stroke="#222222" stroke-width="7.24" stroke-linejoin="round">Kevlar</text>
<text transform="matrix(0.13638 0 0 0.15153 1127.98 519.92)" font-size="200" letter-spacing="30.31" font-weight="normal" fill="#222222" stroke="#222222" stroke-width="7.59" stroke-linejoin="round">LSZH</text>
<text transform="matrix(0.13638 0 0 0.15153 1222.84 519.92)" font-size="200" letter-spacing="35.84" font-weight="normal" fill="#222222" stroke="#222222" stroke-width="7.59" stroke-linejoin="round">Jacket</text>
<text transform="matrix(0.13638 0 0 0.15153 184.80 799.42)" font-size="200" letter-spacing="51.85" font-weight="normal" fill="#222222" stroke="#222222" stroke-width="7.59" stroke-linejoin="round">Low</text>
<text transform="matrix(0.13638 0 0 0.15153 264.84 799.42)" font-size="200" letter-spacing="40.59" font-weight="normal" fill="#222222" stroke="#222222" stroke-width="7.59" stroke-linejoin="round">Friction</text>
<text transform="matrix(0.13638 0 0 0.15153 405.80 799.42)" font-size="200" letter-spacing="28.29" font-weight="normal" fill="#222222" stroke="#222222" stroke-width="7.59" stroke-linejoin="round">LSZH</text>
<text transform="matrix(0.13638 0 0 0.15153 500.65 799.42)" font-size="200" letter-spacing="37.59" font-weight="normal" fill="#222222" stroke="#222222" stroke-width="7.59" stroke-linejoin="round">Jacket</text>
<text transform="matrix(0.13638 0 0 0.15153 148.80 836.92)" font-size="200" letter-spacing="38.32" font-weight="normal" fill="#222222" stroke="#222222" stroke-width="7.59" stroke-linejoin="round">(Coefcient</text>
<text transform="matrix(0.13638 0 0 0.15153 334.53 836.92)" font-size="200" letter-spacing="49.55" font-weight="normal" fill="#222222" stroke="#222222" stroke-width="7.59" stroke-linejoin="round">of</text>
<text transform="matrix(0.13638 0 0 0.15153 378.80 836.92)" font-size="200" letter-spacing="42.86" font-weight="normal" fill="#222222" stroke="#222222" stroke-width="7.59" stroke-linejoin="round">Friction</text>
<text transform="matrix(0.13638 0 0 0.15153 555.70 836.92)" font-size="200" letter-spacing="41.47" font-weight="normal" fill="#222222" stroke="#222222" stroke-width="7.59" stroke-linejoin="round">&lt;0.2)</text>
<text transform="matrix(0.18 0 0 0.162 526.6 837.6)" font-size="200" font-style="italic" fill="#222">μ</text>
<text transform="matrix(0.13638 0 0 0.15153 885.03 768.92)" font-size="200" letter-spacing="39.42" font-weight="normal" fill="#222222" stroke="#222222" stroke-width="7.59" stroke-linejoin="round">Industrial-Grade</text>
<text transform="matrix(0.13638 0 0 0.15153 845.65 806.42)" font-size="200" letter-spacing="31.85" font-weight="normal" fill="#222222" stroke="#222222" stroke-width="7.59" stroke-linejoin="round">Stainless</text>
<text transform="matrix(0.13638 0 0 0.15153 1006.66 806.42)" font-size="200" letter-spacing="35.05" font-weight="normal" fill="#222222" stroke="#222222" stroke-width="7.59" stroke-linejoin="round">Steel</text>
<text transform="matrix(0.13638 0 0 0.15153 1103.01 806.42)" font-size="200" letter-spacing="47.62" font-weight="normal" fill="#222222" stroke="#222222" stroke-width="7.59" stroke-linejoin="round">Armor</text>
<text transform="matrix(0.13638 0 0 0.15153 1240.60 784.42)" font-size="200" letter-spacing="32.81" font-weight="normal" fill="#222222" stroke="#222222" stroke-width="7.59" stroke-linejoin="round">(G.657.A2,SM)</text>
<g stroke="#111" stroke-width="2" fill="#111">
<line x1="811" y1="539" x2="811" y2="634"/><circle cx="811" cy="634.5" r="7" stroke="none"/>
<line x1="1227.3" y1="538" x2="1227.3" y2="633"/><circle cx="1227" cy="633.3" r="7" stroke="none"/>
<line x1="1048.7" y1="634" x2="1048.7" y2="731"/><circle cx="1048.5" cy="634.3" r="7" stroke="none"/>
<line x1="1372" y1="643" x2="1372" y2="740"/><circle cx="1371.8" cy="642.8" r="7" stroke="none"/>
<line x1="339" y1="661" x2="339" y2="759"/>
</g>
<circle cx="339" cy="652.8" r="7.5" fill="none" stroke="#bdbdbd" stroke-width="1.2"/>
<rect x="676" y="1101.5" width="760.5" height="159.5" rx="34" fill="#ffffff" fill-opacity="0.62"/>
<text transform="matrix(0.13834 0 0 0.15371 704.86 1172.92)" font-size="200" letter-spacing="41.20" font-weight="normal" fill="#222222" stroke="#222222" stroke-width="7.48" stroke-linejoin="round">Helical</text>
<text transform="matrix(0.13834 0 0 0.15371 836.81 1172.92)" font-size="200" letter-spacing="38.25" font-weight="normal" fill="#222222" stroke="#222222" stroke-width="7.48" stroke-linejoin="round">Steel</text>
<text transform="matrix(0.13834 0 0 0.15371 935.34 1172.92)" font-size="200" letter-spacing="50.53" font-weight="normal" fill="#222222" stroke="#222222" stroke-width="7.48" stroke-linejoin="round">Armor</text>
<text transform="matrix(0.13834 0 0 0.15371 1053.29 1172.92)" font-size="200" letter-spacing="36.88" font-weight="normal" fill="#222222" stroke="#222222" stroke-width="7.48" stroke-linejoin="round">Enhances</text>
<text transform="matrix(0.13834 0 0 0.15371 1225.86 1172.92)" font-size="200" letter-spacing="35.75" font-weight="normal" fill="#222222" stroke="#222222" stroke-width="7.48" stroke-linejoin="round">Resistance</text>
<text transform="matrix(0.13834 0 0 0.15371 694.00 1211.72)" font-size="200" letter-spacing="43.11" font-weight="normal" fill="#222222" stroke="#222222" stroke-width="7.48" stroke-linejoin="round">Against</text>
<text transform="matrix(0.13834 0 0 0.15371 837.01 1211.72)" font-size="200" letter-spacing="41.90" font-weight="normal" fill="#222222" stroke="#222222" stroke-width="7.48" stroke-linejoin="round">Crush</text>
<text transform="matrix(0.13834 0 0 0.15371 946.95 1211.72)" font-size="200" letter-spacing="35.41" font-weight="normal" fill="#222222" stroke="#222222" stroke-width="7.48" stroke-linejoin="round">Forces</text>
<text transform="matrix(0.13834 0 0 0.15371 1069.98 1211.72)" font-size="200" letter-spacing="53.80" font-weight="normal" fill="#222222" stroke="#222222" stroke-width="7.48" stroke-linejoin="round">and</text>
<text transform="matrix(0.13834 0 0 0.15371 1144.94 1211.72)" font-size="200" letter-spacing="44.64" font-weight="normal" fill="#222222" stroke="#222222" stroke-width="7.48" stroke-linejoin="round">Rodent</text>
<text transform="matrix(0.13834 0 0 0.15371 1281.94 1211.72)" font-size="200" letter-spacing="47.24" font-weight="normal" fill="#222222" stroke="#222222" stroke-width="7.48" stroke-linejoin="round">Damage</text>
<defs>
<linearGradient id="mbg" x1="0" y1="0" x2="0" y2="1"><stop offset="0" stop-color="#dfe9fa"/><stop offset="0.5" stop-color="#c5d9f5"/><stop offset="1" stop-color="#a9c6ee"/></linearGradient>
<clipPath id="mframe"><path d="M234,1000 L491,1000 C549.5438,1000 597,1047.4562 597,1106 L597,1314 C597,1372.5438 549.5438,1420 491,1420 L234,1420 C175.4562,1420 128,1372.5438 128,1314 L128,1106 C128,1047.4562 175.4562,1000 234,1000 Z"/></clipPath>
<filter id="mb" x="-50%" y="-50%" width="200%" height="200%"><feGaussianBlur stdDeviation="12"/></filter>
</defs>
<path d="M234,990 L491,990 C555.0668000000001,990 607,1041.9332 607,1106 L607,1314 C607,1378.0668 555.0668000000001,1430 491,1430 L234,1430 C169.9332,1430 118,1378.0668 118,1314 L118,1106 C118,1041.9332 169.9332,990 234,990 Z" fill="#ffffff" filter="url(#blur4)" opacity="0.9"/>
<path d="M234.5,990.5 L490.5,990.5 C554.5668000000001,990.5 606.5,1042.4332 606.5,1106.5 L606.5,1313.5 C606.5,1377.5668 554.5668000000001,1429.5 490.5,1429.5 L234.5,1429.5 C170.4332,1429.5 118.5,1377.5668 118.5,1313.5 L118.5,1106.5 C118.5,1042.4332 170.4332,990.5 234.5,990.5 Z" fill="#ffffff"/>
<path d="M234,1000 L491,1000 C549.5438,1000 597,1047.4562 597,1106 L597,1314 C597,1372.5438 549.5438,1420 491,1420 L234,1420 C175.4562,1420 128,1372.5438 128,1314 L128,1106 C128,1047.4562 175.4562,1000 234,1000 Z" fill="url(#mbg)"/>
<g clip-path="url(#mframe)"><g transform="translate(110 980) scale(0.2)">
<path d="M60.0,1485.0 C83.3,1485.5 156.7,1481.3 200.0,1488.0 C243.3,1494.7 283.3,1507.2 320.0,1525.0 C356.7,1542.8 386.7,1568.3 420.0,1595.0 C453.3,1621.7 486.7,1660.8 520.0,1685.0 C553.3,1709.2 580.0,1727.5 620.0,1740.0 C660.0,1752.5 736.7,1756.7 760.0,1760.0" fill="none" stroke="#0b0b0b" stroke-width="106" stroke-linecap="butt" stroke-linejoin="round"/>
<path d="M60.0,1485.0 C83.3,1485.5 156.7,1481.3 200.0,1488.0 C243.3,1494.7 283.3,1507.2 320.0,1525.0 C356.7,1542.8 386.7,1568.3 420.0,1595.0 C453.3,1621.7 486.7,1660.8 520.0,1685.0 C553.3,1709.2 580.0,1727.5 620.0,1740.0 C660.0,1752.5 736.7,1756.7 760.0,1760.0" fill="none" stroke="#ffd900" stroke-width="68" stroke-linecap="butt" stroke-linejoin="round"/>
<path d="M240.0,2062.0 C270.0,2052.5 366.7,2020.7 420.0,2005.0 C473.3,1989.3 513.3,1980.2 560.0,1968.0 C606.7,1955.8 656.7,1945.0 700.0,1932.0 C743.3,1919.0 778.9,1909.8 820.0,1890.0 C861.1,1870.2 911.1,1833.3 946.7,1813.3 C982.2,1793.3 1002.2,1780.6 1033.3,1770.0 C1064.4,1759.4 1105.6,1758.3 1133.3,1750.0 C1161.1,1741.7 1188.9,1725.0 1200.0,1720.0" fill="none" stroke="#0b0b0b" stroke-width="100" stroke-linecap="butt" stroke-linejoin="round"/>
<path d="M240.0,2062.0 C270.0,2052.5 366.7,2020.7 420.0,2005.0 C473.3,1989.3 513.3,1980.2 560.0,1968.0 C606.7,1955.8 656.7,1945.0 700.0,1932.0 C743.3,1919.0 778.9,1909.8 820.0,1890.0 C861.1,1870.2 911.1,1833.3 946.7,1813.3 C982.2,1793.3 1002.2,1780.6 1033.3,1770.0 C1064.4,1759.4 1105.6,1758.3 1133.3,1750.0 C1161.1,1741.7 1188.9,1725.0 1200.0,1720.0" fill="none" stroke="#ffd900" stroke-width="64" stroke-linecap="butt" stroke-linejoin="round"/>
<path d="M973.3,1813.3 C982.2,1808.9 1008.9,1792.8 1026.7,1786.7 C1044.4,1780.6 1071.1,1778.3 1080.0,1776.7" fill="none" stroke="#0b0b0b" stroke-width="10" stroke-linecap="round" stroke-linejoin="round"/>
<path d="M240.0,530.0 C238.3,537.0 271.3,561.7 285.0,590.0 C298.7,618.3 314.0,665.0 322.0,700.0 C330.0,735.0 333.7,766.7 333.0,800.0 C332.3,833.3 323.0,866.7 318.0,900.0 C313.0,933.3 306.5,966.7 303.0,1000.0 C299.5,1033.3 297.7,1073.3 297.0,1100.0 C296.3,1126.7 297.3,1133.3 299.0,1160.0 C300.7,1186.7 300.2,1228.3 307.0,1260.0 C313.8,1291.7 321.2,1321.7 340.0,1350.0 C358.8,1378.3 393.3,1405.0 420.0,1430.0 C446.7,1455.0 470.0,1483.3 500.0,1500.0 C530.0,1516.7 563.3,1523.3 600.0,1530.0 C636.7,1536.7 696.7,1557.5 720.0,1540.0 C743.3,1522.5 751.7,1444.2 740.0,1425.0 C728.3,1405.8 681.7,1428.3 650.0,1425.0 C618.3,1421.7 583.3,1418.3 550.0,1405.0 C516.7,1391.7 477.0,1370.8 450.0,1345.0 C423.0,1319.2 402.2,1282.5 388.0,1250.0 C373.8,1217.5 369.2,1183.3 365.0,1150.0 C360.8,1116.7 361.8,1083.3 363.0,1050.0 C364.2,1016.7 367.8,983.3 372.0,950.0 C376.2,916.7 385.0,883.3 388.0,850.0 C391.0,816.7 391.7,778.3 390.0,750.0 C388.3,721.7 385.5,704.2 378.0,680.0 C370.5,655.8 358.8,627.0 345.0,605.0 C331.2,583.0 312.5,560.5 295.0,548.0 C277.5,535.5 241.7,523.0 240.0,530.0 Z" fill="#f7bcb8" stroke="#0b0b0b" stroke-width="24" stroke-linejoin="round" stroke-linecap="round"/>
<path d="M1010.0,1135.0 C951.7,1151.7 936.7,1172.5 900.0,1200.0 C863.3,1227.5 819.2,1266.7 790.0,1300.0 C760.8,1333.3 741.3,1363.3 725.0,1400.0 C708.7,1436.7 697.5,1483.3 692.0,1520.0 C686.5,1556.7 685.7,1587.5 692.0,1620.0 C698.3,1652.5 712.0,1686.7 730.0,1715.0 C748.0,1743.3 771.7,1777.5 800.0,1790.0 C828.3,1802.5 866.7,1795.8 900.0,1790.0 C933.3,1784.2 966.7,1759.2 1000.0,1755.0 C1033.3,1750.8 1075.0,1759.2 1100.0,1765.0 C1125.0,1770.8 1125.0,1785.8 1150.0,1790.0 C1175.0,1794.2 1218.3,1798.3 1250.0,1790.0 C1281.7,1781.7 1315.8,1761.7 1340.0,1740.0 C1364.2,1718.3 1380.8,1688.3 1395.0,1660.0 C1409.2,1631.7 1417.5,1600.0 1425.0,1570.0 C1432.5,1540.0 1437.5,1516.7 1440.0,1480.0 C1442.5,1443.3 1446.7,1396.7 1440.0,1350.0 C1433.3,1303.3 1431.7,1241.7 1400.0,1200.0 C1368.3,1158.3 1315.0,1110.8 1250.0,1100.0 C1185.0,1089.2 1068.3,1118.3 1010.0,1135.0 Z" fill="#c5cad4" stroke="#0b0b0b" stroke-width="31" stroke-linejoin="round" stroke-linecap="round"/>
<path d="M1140.0,1790.0 C1141.7,1781.7 1208.3,1766.7 1240.0,1750.0 C1271.7,1733.3 1306.7,1711.7 1330.0,1690.0 C1353.3,1668.3 1370.0,1618.3 1380.0,1620.0 C1390.0,1621.7 1398.3,1673.3 1390.0,1700.0 C1381.7,1726.7 1356.7,1763.3 1330.0,1780.0 C1303.3,1796.7 1261.7,1798.3 1230.0,1800.0 C1198.3,1801.7 1138.3,1798.3 1140.0,1790.0 Z" fill="#b5b9c3"/>
<path d="M1060.0,1450.0 C1076.3,1436.2 1096.7,1420.7 1120.0,1422.0 C1143.3,1423.3 1170.0,1450.8 1200.0,1458.0 C1230.0,1465.2 1266.7,1467.2 1300.0,1465.0 C1333.3,1462.8 1380.8,1439.2 1400.0,1445.0 C1419.2,1450.8 1414.7,1477.5 1415.0,1500.0 C1415.3,1522.5 1412.5,1555.0 1402.0,1580.0 C1391.5,1605.0 1377.3,1629.7 1352.0,1650.0 C1326.7,1670.3 1292.0,1686.7 1250.0,1702.0 C1208.0,1717.3 1133.7,1735.7 1100.0,1742.0 C1066.3,1748.3 1057.7,1753.7 1048.0,1740.0 C1038.3,1726.3 1042.3,1686.7 1042.0,1660.0 C1041.7,1633.3 1049.3,1605.8 1046.0,1580.0 C1042.7,1554.2 1019.7,1526.7 1022.0,1505.0 C1024.3,1483.3 1043.7,1463.8 1060.0,1450.0 Z" fill="#f3eee4"/>
<path d="M1050.0,1745.0 C1075.0,1741.7 1153.3,1739.2 1200.0,1725.0 C1246.7,1710.8 1296.7,1685.8 1330.0,1660.0 C1363.3,1634.2 1388.3,1585.0 1400.0,1570.0" fill="none" stroke="#0b0b0b" stroke-width="26" stroke-linecap="round" stroke-linejoin="round"/>
<path d="M1020.0,1505.0 C1024.2,1517.5 1041.7,1552.5 1045.0,1580.0 C1048.3,1607.5 1047.5,1641.7 1040.0,1670.0 C1032.5,1698.3 1023.3,1730.0 1000.0,1750.0 C976.7,1770.0 931.7,1783.3 900.0,1790.0 C868.3,1796.7 825.0,1790.0 810.0,1790.0" fill="none" stroke="#0b0b0b" stroke-width="26" stroke-linecap="round" stroke-linejoin="round"/>
<path d="M1090.0,1370.0 C1095.0,1378.3 1101.7,1405.3 1120.0,1420.0 C1138.3,1434.7 1170.0,1450.5 1200.0,1458.0 C1230.0,1465.5 1266.7,1467.2 1300.0,1465.0 C1333.3,1462.8 1383.3,1448.3 1400.0,1445.0" fill="none" stroke="#0b0b0b" stroke-width="26" stroke-linecap="round" stroke-linejoin="round"/>
<path d="M1245.0,1250.0 C1252.5,1260.0 1274.2,1295.0 1290.0,1310.0 C1305.8,1325.0 1323.3,1333.3 1340.0,1340.0 C1356.7,1346.7 1381.7,1348.3 1390.0,1350.0" fill="none" stroke="#0b0b0b" stroke-width="20" stroke-linecap="round" stroke-linejoin="round"/>
<path d="M712.0,1750.0 C699.5,1762.0 716.2,1826.7 725.0,1860.0 C733.8,1893.3 747.5,1927.0 765.0,1950.0 C782.5,1973.0 806.7,1992.0 830.0,1998.0 C853.3,2004.0 885.0,1996.0 905.0,1986.0 C925.0,1976.0 945.0,1954.0 950.0,1938.0 C955.0,1922.0 946.7,1904.3 935.0,1890.0 C923.3,1875.7 895.8,1864.5 880.0,1852.0 C864.2,1839.5 853.3,1825.7 840.0,1815.0 C826.7,1804.3 821.3,1798.8 800.0,1788.0 C778.7,1777.2 724.5,1738.0 712.0,1750.0 Z" fill="#f7bcb8" stroke="#0b0b0b" stroke-width="27" stroke-linejoin="round" stroke-linecap="round"/>
<path d="M850.0,1970.0 C850.3,1963.3 854.5,1941.2 852.0,1930.0 C849.5,1918.8 837.8,1907.5 835.0,1903.0" fill="none" stroke="#0b0b0b" stroke-width="16" stroke-linecap="round" stroke-linejoin="round"/>
<path d="M905.0,1950.0 C903.7,1944.2 902.0,1924.5 897.0,1915.0 C892.0,1905.5 878.7,1896.7 875.0,1893.0" fill="none" stroke="#0b0b0b" stroke-width="16" stroke-linecap="round" stroke-linejoin="round"/>
<path d="M1130.0,1800.0 C1121.7,1812.0 1171.7,1843.3 1200.0,1860.0 C1228.3,1876.7 1270.0,1891.7 1300.0,1900.0 C1330.0,1908.3 1360.0,1916.7 1380.0,1910.0 C1400.0,1903.3 1416.7,1878.3 1420.0,1860.0 C1423.3,1841.7 1415.0,1813.3 1400.0,1800.0 C1385.0,1786.7 1355.0,1782.0 1330.0,1780.0 C1305.0,1778.0 1283.3,1784.7 1250.0,1788.0 C1216.7,1791.3 1138.3,1788.0 1130.0,1800.0 Z" fill="#f7bcb8" stroke="#0b0b0b" stroke-width="27" stroke-linejoin="round" stroke-linecap="round"/>
<path d="M1350.0,1890.0 C1350.3,1885.0 1354.5,1868.7 1352.0,1860.0 C1349.5,1851.3 1337.8,1841.7 1335.0,1838.0" fill="none" stroke="#0b0b0b" stroke-width="16" stroke-linecap="round" stroke-linejoin="round"/>
<path d="M1395.0,1870.0 C1393.7,1865.0 1392.0,1847.8 1387.0,1840.0 C1382.0,1832.2 1368.7,1825.8 1365.0,1823.0" fill="none" stroke="#0b0b0b" stroke-width="16" stroke-linecap="round" stroke-linejoin="round"/>
<path d="M2450.0,1445.7 C2435.3,1449.7 2388.9,1460.1 2362.0,1469.9 C2335.1,1479.6 2310.7,1491.9 2288.7,1504.3 C2266.7,1516.8 2239.8,1537.9 2230.0,1544.7" fill="none" stroke="#0b0b0b" stroke-width="108" stroke-linecap="butt" stroke-linejoin="round"/>
<path d="M2450.0,1445.7 C2435.3,1449.7 2388.9,1460.1 2362.0,1469.9 C2335.1,1479.6 2310.7,1491.9 2288.7,1504.3 C2266.7,1516.8 2239.8,1537.9 2230.0,1544.7" fill="none" stroke="#ffd900" stroke-width="66" stroke-linecap="butt" stroke-linejoin="round"/>
<path d="M1740.0,1045.0 C1752.2,1039.2 1786.3,1021.7 1813.0,1010.0 C1839.7,998.3 1868.8,982.8 1900.0,975.0 C1931.2,967.2 1969.5,961.7 2000.0,963.0 C2030.5,964.3 2059.2,971.8 2083.0,983.0 C2106.8,994.2 2128.5,1012.2 2143.0,1030.0 C2157.5,1047.8 2165.5,1070.0 2170.0,1090.0 C2174.5,1110.0 2172.8,1130.0 2170.0,1150.0 C2167.2,1170.0 2158.8,1190.0 2153.0,1210.0 C2147.2,1230.0 2138.0,1260.0 2135.0,1270.0" fill="none" stroke="#0b0b0b" stroke-width="108" stroke-linecap="butt" stroke-linejoin="round"/>
<path d="M1740.0,1045.0 C1752.2,1039.2 1786.3,1021.7 1813.0,1010.0 C1839.7,998.3 1868.8,982.8 1900.0,975.0 C1931.2,967.2 1969.5,961.7 2000.0,963.0 C2030.5,964.3 2059.2,971.8 2083.0,983.0 C2106.8,994.2 2128.5,1012.2 2143.0,1030.0 C2157.5,1047.8 2165.5,1070.0 2170.0,1090.0 C2174.5,1110.0 2172.8,1130.0 2170.0,1150.0 C2167.2,1170.0 2158.8,1190.0 2153.0,1210.0 C2147.2,1230.0 2138.0,1260.0 2135.0,1270.0" fill="none" stroke="#ffd900" stroke-width="68" stroke-linecap="butt" stroke-linejoin="round"/>
<path d="M1562.0,1510.0 C1563.3,1498.3 1567.3,1461.7 1570.0,1440.0 C1572.7,1418.3 1578.0,1400.8 1578.0,1380.0 C1578.0,1359.2 1571.3,1325.8 1570.0,1315.0" fill="none" stroke="#0b0b0b" stroke-width="100" stroke-linecap="round" stroke-linejoin="round"/>
<path d="M1562.0,1510.0 C1563.3,1498.3 1567.3,1461.7 1570.0,1440.0 C1572.7,1418.3 1578.0,1400.8 1578.0,1380.0 C1578.0,1359.2 1571.3,1325.8 1570.0,1315.0" fill="none" stroke="#ffd900" stroke-width="60" stroke-linecap="round" stroke-linejoin="round"/>
<path d="M1608.7,1526.4 C1620.2,1510.4 1657.6,1490.0 1683.3,1472.0 C1709.1,1454.0 1735.8,1434.7 1763.3,1418.7 C1790.9,1402.7 1822.0,1389.2 1848.7,1376.0 C1875.3,1362.8 1902.9,1350.8 1923.3,1339.7 C1943.8,1328.6 1961.6,1303.3 1971.3,1309.3 C1981.1,1315.4 1990.0,1358.7 1982.0,1376.0 C1974.0,1393.3 1942.0,1400.9 1923.3,1413.3 C1904.7,1425.8 1889.6,1436.4 1870.0,1450.7 C1850.4,1464.9 1825.6,1483.6 1806.0,1498.7 C1786.4,1513.8 1773.1,1529.8 1752.7,1541.3 C1732.2,1552.9 1706.4,1563.6 1683.3,1568.0 C1660.2,1572.4 1626.4,1574.9 1614.0,1568.0 C1601.6,1561.1 1597.1,1542.4 1608.7,1526.4 Z" fill="#ffd900" stroke="#0b0b0b" stroke-width="24" stroke-linejoin="round" stroke-linecap="round"/>
<path d="M1960.7,1437.3 C1974.0,1442.0 2028.7,1423.5 2056.7,1409.1 C2084.7,1394.7 2111.1,1368.4 2128.7,1350.9 C2146.3,1333.5 2159.2,1316.4 2162.3,1304.5 C2165.4,1292.7 2164.9,1279.6 2147.3,1280.0 C2129.7,1280.4 2085.1,1289.8 2056.7,1306.7 C2028.2,1323.6 1992.7,1359.6 1976.7,1381.3 C1960.7,1403.1 1947.3,1432.7 1960.7,1437.3 Z" fill="#ffd900" stroke="#0b0b0b" stroke-width="22" stroke-linejoin="round" stroke-linecap="round"/>
<path d="M1752.7,1526.4 C1755.3,1518.4 1783.6,1496.5 1806.0,1478.4 C1828.4,1460.3 1871.5,1424.9 1887.1,1417.6 C1902.6,1410.3 1907.1,1422.5 1899.3,1434.7 C1891.6,1446.8 1858.9,1475.4 1840.7,1490.7 C1822.4,1506.0 1804.7,1520.4 1790.0,1526.4 C1775.3,1532.4 1750.0,1534.4 1752.7,1526.4 Z" fill="#0b0b0b"/>
<path d="M1464.7,1498.7 C1477.1,1506.7 1500.2,1550.2 1523.3,1568.0 C1546.4,1585.8 1576.7,1596.4 1603.3,1605.3 C1630.0,1614.2 1656.7,1619.6 1683.3,1621.3 C1710.0,1623.1 1736.7,1616.0 1763.3,1616.0 C1790.0,1616.0 1816.7,1619.6 1843.3,1621.3 C1870.0,1623.1 1896.7,1629.3 1923.3,1626.7 C1950.0,1624.0 1981.1,1614.2 2003.3,1605.3 C2025.6,1596.4 2038.0,1584.0 2056.7,1573.3 C2075.3,1562.7 2097.6,1552.9 2115.3,1541.3 C2133.1,1529.8 2148.2,1514.7 2163.3,1504.0 C2178.4,1493.3 2198.0,1464.0 2206.0,1477.3 C2214.0,1490.7 2222.9,1558.7 2211.3,1584.0 C2199.8,1609.3 2153.6,1619.4 2136.7,1629.3 C2119.8,1639.3 2127.8,1633.5 2110.0,1643.7 C2092.2,1654.0 2056.7,1678.4 2030.0,1690.7 C2003.3,1702.9 1976.7,1711.6 1950.0,1717.3 C1923.3,1723.1 1901.1,1725.8 1870.0,1725.3 C1838.9,1724.9 1798.9,1720.4 1763.3,1714.7 C1727.8,1708.9 1687.8,1700.9 1656.7,1690.7 C1625.6,1680.4 1598.9,1664.9 1576.7,1653.3 C1554.4,1641.8 1544.7,1643.6 1523.3,1621.3 C1502.0,1599.1 1458.4,1540.4 1448.7,1520.0 C1438.9,1499.6 1452.2,1490.7 1464.7,1498.7 Z" fill="#ffd900" stroke="#0b0b0b" stroke-width="24" stroke-linejoin="round" stroke-linecap="round"/>
<path d="M1486.0,1434.7 C1495.8,1432.9 1507.3,1474.7 1523.3,1488.0 C1539.3,1501.3 1566.0,1509.5 1582.0,1514.7 C1598.0,1519.8 1601.6,1515.4 1619.3,1518.9 C1637.1,1522.5 1664.7,1534.9 1688.7,1536.0 C1712.7,1537.1 1740.2,1535.1 1763.3,1525.3 C1786.4,1515.6 1806.0,1496.0 1827.3,1477.3 C1848.7,1458.7 1873.6,1436.3 1891.3,1413.3 C1909.1,1390.4 1919.8,1360.2 1934.0,1339.7 C1948.2,1319.3 1960.7,1306.0 1976.7,1290.7 C1992.7,1275.4 2012.2,1259.1 2030.0,1248.0 C2047.8,1236.9 2065.6,1228.9 2083.3,1224.0 C2101.1,1219.1 2118.9,1216.4 2136.7,1218.7 C2154.4,1220.9 2173.1,1227.1 2190.0,1237.3 C2206.9,1247.6 2224.7,1261.3 2238.0,1280.0 C2251.3,1298.7 2263.3,1325.3 2270.0,1349.3 C2276.7,1373.3 2278.9,1395.6 2278.0,1424.0 C2277.1,1452.4 2273.1,1489.8 2264.7,1520.0 C2256.2,1550.2 2239.8,1583.1 2227.3,1605.3 C2214.9,1627.6 2202.4,1643.4 2190.0,1653.3 C2177.6,1663.3 2164.2,1665.8 2152.7,1665.1 C2141.1,1664.4 2123.3,1659.0 2120.7,1649.1 C2118.0,1639.1 2128.7,1625.1 2136.7,1605.3 C2144.7,1585.6 2160.7,1555.6 2168.7,1530.7 C2176.7,1505.8 2182.4,1480.0 2184.7,1456.0 C2186.9,1432.0 2185.6,1407.1 2182.0,1386.7 C2178.4,1366.2 2172.7,1347.1 2163.3,1333.3 C2154.0,1319.6 2141.1,1307.1 2126.0,1304.0 C2110.9,1300.9 2090.4,1305.3 2072.7,1314.7 C2054.9,1324.0 2035.3,1343.6 2019.3,1360.0 C2003.3,1376.4 1990.9,1395.6 1976.7,1413.3 C1962.4,1431.1 1948.2,1448.9 1934.0,1466.7 C1919.8,1484.4 1907.3,1502.2 1891.3,1520.0 C1875.3,1537.8 1859.3,1557.8 1838.0,1573.3 C1816.7,1588.9 1789.1,1605.3 1763.3,1613.3 C1737.6,1621.3 1710.0,1622.7 1683.3,1621.3 C1656.7,1620.0 1630.0,1614.2 1603.3,1605.3 C1576.7,1596.4 1546.4,1585.8 1523.3,1568.0 C1500.2,1550.2 1470.9,1520.9 1464.7,1498.7 C1458.4,1476.4 1476.2,1436.4 1486.0,1434.7 Z" fill="#ffd900" stroke="#0b0b0b" stroke-width="24" stroke-linejoin="round" stroke-linecap="round"/>
<path d="M1755.3,1523.2 C1758.9,1516.8 1785.1,1495.5 1800.7,1481.6 C1816.2,1467.7 1834.4,1451.4 1848.7,1440.0 C1862.9,1428.6 1884.2,1410.7 1886.0,1413.3 C1887.8,1416.0 1870.4,1442.8 1859.3,1456.0 C1848.2,1469.2 1832.7,1481.6 1819.3,1492.3 C1806.0,1502.9 1790.0,1514.8 1779.3,1520.0 C1768.7,1525.2 1751.8,1529.6 1755.3,1523.2 Z" fill="#0b0b0b"/>
<path d="M1435.0,1380.0 C1437.5,1400.0 1441.7,1453.3 1450.0,1500.0 C1458.3,1546.7 1465.0,1610.8 1485.0,1660.0 C1505.0,1709.2 1534.2,1755.8 1570.0,1795.0 C1605.8,1834.2 1649.2,1868.8 1700.0,1895.0 C1750.8,1921.2 1808.3,1937.8 1875.0,1952.0 C1941.7,1966.2 2012.5,1976.7 2100.0,1980.0 C2187.5,1983.3 2350.0,1973.3 2400.0,1972.0" fill="none" stroke="#0b0b0b" stroke-width="108" stroke-linecap="butt" stroke-linejoin="round"/>
<path d="M1435.0,1380.0 C1437.5,1400.0 1441.7,1453.3 1450.0,1500.0 C1458.3,1546.7 1465.0,1610.8 1485.0,1660.0 C1505.0,1709.2 1534.2,1755.8 1570.0,1795.0 C1605.8,1834.2 1649.2,1868.8 1700.0,1895.0 C1750.8,1921.2 1808.3,1937.8 1875.0,1952.0 C1941.7,1966.2 2012.5,1976.7 2100.0,1980.0 C2187.5,1983.3 2350.0,1973.3 2400.0,1972.0" fill="none" stroke="#ffd900" stroke-width="66" stroke-linecap="butt" stroke-linejoin="round"/>
<clipPath id="earL"><ellipse cx="748" cy="848" rx="250" ry="262"/></clipPath>
<ellipse cx="748" cy="848" rx="247" ry="259" fill="#c5cad4" stroke="#0b0b0b" stroke-width="31"/>
<g clip-path="url(#earL)"><ellipse cx="733" cy="892" rx="214" ry="222" fill="#f7bcb8" stroke="#0b0b0b" stroke-width="23"/></g>
<clipPath id="earT"><ellipse cx="1172" cy="500" rx="228" ry="225"/></clipPath>
<ellipse cx="1172" cy="500" rx="225" ry="222" fill="#c5cad4" stroke="#0b0b0b" stroke-width="31"/>
<g clip-path="url(#earT)"><ellipse cx="1216" cy="448" rx="170" ry="164" fill="#f7bcb8" stroke="#0b0b0b" stroke-width="23"/></g>
<path d="M985.0,745.0 C1000.0,720.0 1017.5,692.5 1040.0,670.0 C1062.5,647.5 1088.3,626.7 1120.0,610.0 C1151.7,593.3 1186.7,579.7 1230.0,570.0 C1273.3,560.3 1338.3,548.7 1380.0,552.0 C1421.7,555.3 1452.5,576.7 1480.0,590.0 C1507.5,603.3 1525.0,619.5 1545.0,632.0 C1565.0,644.5 1580.8,643.7 1600.0,665.0 C1619.2,686.3 1653.3,720.8 1660.0,760.0 C1666.7,799.2 1635.0,860.0 1640.0,900.0 C1645.0,940.0 1676.7,966.7 1690.0,1000.0 C1703.3,1033.3 1726.7,1058.3 1720.0,1100.0 C1713.3,1141.7 1686.7,1213.3 1650.0,1250.0 C1613.3,1286.7 1558.3,1311.7 1500.0,1320.0 C1441.7,1328.3 1358.3,1315.0 1300.0,1300.0 C1241.7,1285.0 1191.7,1252.5 1150.0,1230.0 C1108.3,1207.5 1075.0,1181.7 1050.0,1165.0 C1025.0,1148.3 1016.7,1147.5 1000.0,1130.0 C983.3,1112.5 962.5,1083.3 950.0,1060.0 C937.5,1036.7 928.0,1016.7 925.0,990.0 C922.0,963.3 927.8,928.3 932.0,900.0 C936.2,871.7 941.2,845.8 950.0,820.0 C958.8,794.2 970.0,770.0 985.0,745.0 Z" fill="#c5cad4"/>
<path d="M985.0,745.0 C994.2,732.5 1017.5,692.5 1040.0,670.0 C1062.5,647.5 1088.3,626.7 1120.0,610.0 C1151.7,593.3 1186.7,579.7 1230.0,570.0 C1273.3,560.3 1338.3,548.7 1380.0,552.0 C1421.7,555.3 1452.5,576.7 1480.0,590.0 C1507.5,603.3 1525.0,619.5 1545.0,632.0 C1565.0,644.5 1590.8,659.5 1600.0,665.0" fill="none" stroke="#0b0b0b" stroke-width="30" stroke-linecap="round" stroke-linejoin="round"/>
<path d="M925.0,985.0 C929.2,997.5 937.5,1036.2 950.0,1060.0 C962.5,1083.8 991.7,1116.7 1000.0,1128.0" fill="none" stroke="#0b0b0b" stroke-width="30" stroke-linecap="round" stroke-linejoin="round"/>
<path d="M1040.0,1152.0 C1045.3,1154.7 1066.7,1165.3 1072.0,1168.0" fill="none" stroke="#0b0b0b" stroke-width="14" stroke-linecap="round" stroke-linejoin="round"/>
<path d="M930.0,812.0 C920.3,814.7 886.5,817.5 872.0,828.0 C857.5,838.5 843.3,859.3 843.0,875.0 C842.7,890.7 855.5,913.2 870.0,922.0 C884.5,930.8 920.0,927.0 930.0,928.0" fill="#f7bcb8" stroke="#0b0b0b" stroke-width="20" stroke-linejoin="round" stroke-linecap="round"/>
<path d="M1569.3,651.3 C1539.1,629.6 1530.2,671.8 1505.3,686.0 C1480.4,700.2 1448.4,711.3 1420.0,736.7 C1391.6,762.0 1361.3,806.9 1334.7,838.0 C1308.0,869.1 1280.0,891.3 1260.0,923.3 C1240.0,955.3 1222.2,994.4 1214.7,1030.0 C1207.1,1065.6 1207.1,1102.9 1214.7,1136.7 C1222.2,1170.4 1241.8,1210.9 1260.0,1232.7 C1278.2,1254.4 1300.9,1261.1 1324.0,1267.3 C1347.1,1273.6 1356.0,1274.0 1398.7,1270.0 C1441.3,1266.0 1527.6,1283.3 1580.0,1243.3 C1632.4,1203.3 1695.6,1101.1 1713.3,1030.0 C1731.1,958.9 1710.7,879.8 1686.7,816.7 C1662.7,753.6 1599.6,673.1 1569.3,651.3 Z" fill="#f3eee4"/>
<ellipse cx="1473" cy="665" rx="42" ry="20" transform="rotate(-22 1473 665)" fill="#f6bfc0"/>
<ellipse cx="1169" cy="961" rx="62" ry="58" fill="#f6b3ba" filter="url(#mb)"/>
<path d="M1652.0,918.0 C1655.6,878.0 1667.6,800.7 1676.0,790.0 C1684.4,779.3 1692.0,834.4 1702.7,854.0 C1713.3,873.6 1732.2,889.6 1740.0,907.3 C1747.8,925.1 1750.9,946.4 1749.6,960.7 C1748.3,974.9 1742.5,981.1 1732.0,992.7 C1721.5,1004.2 1699.6,1023.8 1686.7,1030.0 C1673.8,1036.2 1660.4,1048.7 1654.7,1030.0 C1648.9,1011.3 1648.4,958.0 1652.0,918.0 Z" fill="#f3eee4"/>
<path d="M1678.7,784.7 C1682.7,796.2 1692.4,833.6 1702.7,854.0 C1712.9,874.4 1732.2,889.6 1740.0,907.3 C1747.8,925.1 1750.9,946.4 1749.6,960.7 C1748.3,974.9 1734.9,987.3 1732.0,992.7" fill="none" stroke="#0b0b0b" stroke-width="22" stroke-linecap="round" stroke-linejoin="round"/>
<path d="M1473.3,902.0 C1459.1,902.9 1437.3,910.9 1420.0,926.0 C1402.7,941.1 1381.6,966.4 1369.3,992.7 C1357.1,1018.9 1347.7,1054.9 1346.4,1083.3 C1345.1,1111.8 1352.6,1139.3 1361.3,1163.3 C1370.0,1187.3 1380.0,1210.4 1398.7,1227.3 C1417.3,1244.2 1443.1,1270.9 1473.3,1264.7 C1503.6,1258.4 1553.3,1220.2 1580.0,1190.0 C1606.7,1159.8 1620.9,1114.4 1633.3,1083.3 C1645.8,1052.2 1651.6,1030.9 1654.7,1003.3 C1657.8,975.8 1664.4,930.9 1652.0,918.0 C1639.6,905.1 1604.4,925.6 1580.0,926.0 C1555.6,926.4 1523.1,924.7 1505.3,920.7 C1487.6,916.7 1487.6,901.1 1473.3,902.0 Z" fill="#5d2a2e" stroke="#0b0b0b" stroke-width="22" stroke-linejoin="round" stroke-linecap="round"/>
<clipPath id="mclip"><path d="M1473.3,902.0 C1459.1,902.9 1437.3,910.9 1420.0,926.0 C1402.7,941.1 1381.6,966.4 1369.3,992.7 C1357.1,1018.9 1347.7,1054.9 1346.4,1083.3 C1345.1,1111.8 1352.6,1139.3 1361.3,1163.3 C1370.0,1187.3 1380.0,1210.4 1398.7,1227.3 C1417.3,1244.2 1443.1,1270.9 1473.3,1264.7 C1503.6,1258.4 1553.3,1220.2 1580.0,1190.0 C1606.7,1159.8 1620.9,1114.4 1633.3,1083.3 C1645.8,1052.2 1651.6,1030.9 1654.7,1003.3 C1657.8,975.8 1664.4,930.9 1652.0,918.0 C1639.6,905.1 1604.4,925.6 1580.0,926.0 C1555.6,926.4 1523.1,924.7 1505.3,920.7 C1487.6,916.7 1487.6,901.1 1473.3,902.0 Z"/></clipPath>
<g clip-path="url(#mclip)">
<path d="M1361.3,1088.7 C1366.7,1070.9 1376.4,1064.2 1388.0,1056.7 C1399.6,1049.1 1416.4,1042.4 1430.7,1043.3 C1444.9,1044.2 1462.2,1051.3 1473.3,1062.0 C1484.4,1072.7 1495.6,1090.4 1497.3,1107.3 C1499.1,1124.2 1493.3,1141.6 1484.0,1163.3 C1474.7,1185.1 1457.3,1225.6 1441.3,1238.0 C1425.3,1250.4 1402.2,1250.4 1388.0,1238.0 C1373.8,1225.6 1360.4,1188.2 1356.0,1163.3 C1351.6,1138.4 1356.0,1106.4 1361.3,1088.7 Z" fill="#f17c8c" stroke="#0b0b0b" stroke-width="20" stroke-linejoin="round" stroke-linecap="round"/>
<ellipse cx="1420" cy="1126" rx="40" ry="50" fill="#f5909c"/>
</g>
<path d="M1473.3,902.0 C1459.1,902.9 1437.3,910.9 1420.0,926.0 C1402.7,941.1 1381.6,966.4 1369.3,992.7 C1357.1,1018.9 1347.7,1054.9 1346.4,1083.3 C1345.1,1111.8 1352.6,1139.3 1361.3,1163.3 C1370.0,1187.3 1380.0,1210.4 1398.7,1227.3 C1417.3,1244.2 1443.1,1270.9 1473.3,1264.7 C1503.6,1258.4 1553.3,1220.2 1580.0,1190.0 C1606.7,1159.8 1620.9,1114.4 1633.3,1083.3 C1645.8,1052.2 1651.6,1030.9 1654.7,1003.3 C1657.8,975.8 1664.4,930.9 1652.0,918.0 C1639.6,905.1 1604.4,925.6 1580.0,926.0 C1555.6,926.4 1523.1,924.7 1505.3,920.7 C1487.6,916.7 1487.6,901.1 1473.3,902.0 Z" fill="none" stroke="#0b0b0b" stroke-width="22" stroke-linejoin="round"/>
<path d="M1518.7,936.7 C1518.7,946.9 1517.3,984.7 1518.7,998.0 C1520.0,1011.3 1521.3,1012.4 1526.7,1016.7 C1532.0,1020.9 1542.7,1023.9 1550.7,1023.6 C1558.7,1023.3 1569.5,1020.2 1574.7,1015.1 C1579.8,1009.9 1580.4,1006.0 1581.6,992.7 C1582.8,979.3 1581.6,944.7 1581.6,935.1" fill="#f6f6f2" stroke="#0b0b0b" stroke-width="18" stroke-linejoin="round" stroke-linecap="round"/>
<path d="M1597.1,935.1 C1597.1,942.0 1595.6,966.9 1597.1,976.7 C1598.5,986.4 1600.6,991.2 1605.6,993.7 C1610.6,996.2 1622.0,995.3 1626.9,991.6 C1631.9,987.9 1634.0,981.6 1635.5,971.3 C1636.9,961.0 1635.5,936.7 1635.5,929.7" fill="#f6f6f2" stroke="#0b0b0b" stroke-width="18" stroke-linejoin="round" stroke-linecap="round"/>
<path d="M1473.3,902.0 C1478.7,904.9 1487.6,915.6 1505.3,919.6 C1523.1,923.6 1555.6,926.4 1580.0,926.0 C1604.4,925.6 1640.0,918.4 1652.0,916.9" fill="none" stroke="#0b0b0b" stroke-width="22" stroke-linecap="round" stroke-linejoin="round"/>
<path d="M1546.9,850.3 C1540.4,854.3 1520.3,865.6 1508.0,874.3 C1495.7,882.9 1479.1,897.4 1473.3,902.0" fill="none" stroke="#0b0b0b" stroke-width="20" stroke-linecap="round" stroke-linejoin="round"/>
<path d="M1414.7,737.7 C1429.8,728.8 1479.1,699.2 1505.3,684.4 C1531.6,669.6 1560.9,654.6 1572.0,648.7" fill="none" stroke="#0b0b0b" stroke-width="22" stroke-linecap="round" stroke-linejoin="round"/>
<path d="M1329.3,840.7 C1344.4,835.2 1388.0,815.6 1420.0,807.6 C1452.0,799.6 1504.4,795.2 1521.3,792.7" fill="none" stroke="#0b0b0b" stroke-width="16" stroke-linecap="round" stroke-linejoin="round"/>
<path d="M1737.3,1139.3 C1762.7,1143.8 1740.4,1171.8 1732.0,1190.0 C1723.6,1208.2 1707.6,1231.3 1686.7,1248.7 C1665.8,1266.0 1628.9,1283.8 1606.7,1294.0 C1584.4,1304.2 1568.4,1302.4 1553.3,1310.0 C1538.2,1317.6 1524.0,1350.4 1516.0,1339.3 C1508.0,1328.2 1494.7,1272.7 1505.3,1243.3 C1516.0,1214.0 1541.3,1180.7 1580.0,1163.3 C1618.7,1146.0 1712.0,1134.9 1737.3,1139.3 Z" fill="#b3b7c1" stroke="#0b0b0b" stroke-width="22" stroke-linejoin="round" stroke-linecap="round"/>
<path d="M1542.7,1227.3 C1538.2,1224.7 1530.2,1251.3 1526.7,1270.0 C1523.1,1288.7 1518.2,1328.7 1521.3,1339.3 C1524.4,1350.0 1540.0,1342.9 1545.3,1334.0 C1550.7,1325.1 1553.8,1303.8 1553.3,1286.0 C1552.9,1268.2 1547.1,1230.0 1542.7,1227.3 Z" fill="#d9dbe0"/>
<path d="M1385.3,1339.3 C1386.8,1332.2 1389.3,1314.4 1394.4,1296.7 C1399.5,1278.9 1402.6,1256.2 1415.7,1232.7 C1428.9,1209.1 1450.4,1176.5 1473.3,1155.3 C1496.3,1134.2 1526.7,1118.4 1553.3,1105.7 C1580.0,1093.0 1610.2,1086.2 1633.3,1079.1 C1656.4,1072.0 1682.2,1065.7 1692.0,1063.1" fill="none" stroke="#0b0b0b" stroke-width="108" stroke-linecap="butt" stroke-linejoin="round"/>
<path d="M1385.3,1339.3 C1386.8,1332.2 1389.3,1314.4 1394.4,1296.7 C1399.5,1278.9 1402.6,1256.2 1415.7,1232.7 C1428.9,1209.1 1450.4,1176.5 1473.3,1155.3 C1496.3,1134.2 1526.7,1118.4 1553.3,1105.7 C1580.0,1093.0 1610.2,1086.2 1633.3,1079.1 C1656.4,1072.0 1682.2,1065.7 1692.0,1063.1" fill="none" stroke="#ffd900" stroke-width="66" stroke-linecap="butt" stroke-linejoin="round"/>
<path d="M1702.7,995.3 C1710.5,988.7 1725.8,983.3 1740.0,984.7 C1754.2,986.0 1776.0,991.3 1788.0,1003.3 C1800.0,1015.3 1809.3,1039.8 1812.0,1056.7 C1814.7,1073.6 1811.6,1091.3 1804.0,1104.7 C1796.4,1118.0 1780.4,1132.0 1766.7,1136.7 C1752.9,1141.3 1732.9,1137.7 1721.3,1132.4 C1709.8,1127.1 1698.8,1112.8 1697.3,1104.7 C1695.8,1096.5 1714.2,1091.3 1712.3,1083.3 C1710.3,1075.3 1688.8,1066.4 1685.6,1056.7 C1682.4,1046.9 1690.2,1034.9 1693.1,1024.7 C1695.9,1014.4 1694.8,1002.0 1702.7,995.3 Z" fill="#f7bcb8" stroke="#0b0b0b" stroke-width="22" stroke-linejoin="round" stroke-linecap="round"/>
<path d="M1689.3,1032.7 C1694.2,1031.3 1710.7,1023.8 1718.7,1024.7 C1726.7,1025.6 1734.2,1035.8 1737.3,1038.0" fill="none" stroke="#0b0b0b" stroke-width="16" stroke-linecap="round" stroke-linejoin="round"/>
<path d="M1692.0,1064.7 C1697.3,1064.2 1714.9,1060.2 1724.0,1062.0 C1733.1,1063.8 1742.7,1073.1 1746.4,1075.3" fill="none" stroke="#0b0b0b" stroke-width="16" stroke-linecap="round" stroke-linejoin="round"/>
<path d="M1708.0,1110.0 C1712.4,1108.7 1727.4,1102.0 1734.7,1102.0 C1742.0,1102.0 1748.9,1108.7 1751.7,1110.0" fill="none" stroke="#0b0b0b" stroke-width="16" stroke-linecap="round" stroke-linejoin="round"/>
<path d="M1372.0,1368.7 C1380.8,1354.0 1400.1,1333.2 1416.0,1324.7 C1431.9,1316.1 1453.3,1312.4 1467.3,1317.3 C1481.4,1322.2 1495.4,1341.8 1500.3,1354.0 C1505.2,1366.2 1496.4,1379.7 1496.7,1390.7 C1496.9,1401.7 1507.9,1410.0 1501.8,1420.0 C1495.7,1430.0 1478.0,1446.9 1460.0,1450.8 C1442.0,1454.7 1410.1,1449.8 1394.0,1443.5 C1377.9,1437.1 1366.9,1425.1 1363.2,1412.7 C1359.5,1400.2 1363.2,1383.3 1372.0,1368.7 Z" fill="#f7bcb8" stroke="#0b0b0b" stroke-width="22" stroke-linejoin="round" stroke-linecap="round"/>
<path d="M1445.3,1367.2 C1450.2,1366.5 1466.1,1362.3 1474.7,1362.8 C1483.2,1363.3 1493.0,1368.9 1496.7,1370.1" fill="none" stroke="#0b0b0b" stroke-width="14" stroke-linecap="round" stroke-linejoin="round"/>
<path d="M1452.7,1412.7 C1456.3,1411.8 1467.8,1407.8 1474.7,1407.5 C1481.5,1407.3 1490.6,1410.6 1493.7,1411.2" fill="none" stroke="#0b0b0b" stroke-width="14" stroke-linecap="round" stroke-linejoin="round"/>
<path d="M1645.0,420.0 C1645.5,436.7 1646.2,486.7 1648.0,520.0 C1649.8,553.3 1654.7,603.3 1656.0,620.0" fill="none" stroke="#0b0b0b" stroke-width="16" stroke-linecap="round" stroke-linejoin="round"/>
<path d="M1840.0,440.0 C1825.8,454.2 1778.7,494.2 1755.0,525.0 C1731.3,555.8 1707.5,608.3 1698.0,625.0" fill="none" stroke="#0b0b0b" stroke-width="16" stroke-linecap="round" stroke-linejoin="round"/>
<path d="M1920.0,620.0 C1903.3,624.7 1850.8,634.7 1820.0,648.0 C1789.2,661.3 1749.2,691.3 1735.0,700.0" fill="none" stroke="#0b0b0b" stroke-width="16" stroke-linecap="round" stroke-linejoin="round"/>
<path d="M1900.0,780.0 C1886.7,777.0 1846.7,764.3 1820.0,762.0 C1793.3,759.7 1753.3,765.3 1740.0,766.0" fill="none" stroke="#0b0b0b" stroke-width="16" stroke-linecap="round" stroke-linejoin="round"/>
<ellipse cx="1655" cy="705" rx="76" ry="86" transform="rotate(25 1654 704)" fill="#0b0b0b"/>
<ellipse cx="1649" cy="661" rx="27" ry="9" transform="rotate(-35 1649 661)" fill="#fff"/>
<ellipse cx="1233" cy="811" rx="50" ry="62" transform="rotate(-18 1233 811)" fill="#0b0b0b"/>
<ellipse cx="1211" cy="785" rx="10" ry="15" transform="rotate(-18 1211 785)" fill="#fff"/>
<ellipse cx="1391" cy="665" rx="45" ry="36" transform="rotate(28 1391 665)" fill="#0b0b0b"/>
<ellipse cx="1372" cy="651" rx="11" ry="9" transform="rotate(28 1372 651)" fill="#fff"/>
</g></g>
<circle cx="546.5" cy="1032.5" r="72.5" fill="#dc2107"/>
<path d="M517.8,1003.8 L574.8,1060.8 M574.8,1003.8 L517.8,1060.8" stroke="#ffffff" stroke-width="17" stroke-linecap="round"/>

</svg>
</body></html>
